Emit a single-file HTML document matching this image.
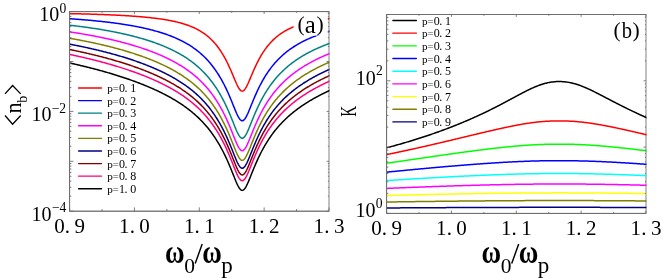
<!DOCTYPE html>
<html><head><meta charset="utf-8"><title>chart</title><style>html,body{margin:0;padding:0;background:#fff;}body{width:663px;height:278px;overflow:hidden;font-family:"Liberation Serif",serif;}</style></head><body>
<svg width="663" height="278" viewBox="0 0 663 278" style="display:block;will-change:transform" font-family="'Liberation Serif', serif">
<rect width="663" height="278" fill="#fff"/>
<defs><clipPath id="c1"><rect x="69.60" y="11.60" width="259.85" height="199.60"/></clipPath>
<clipPath id="c2"><rect x="386.60" y="14.50" width="259.85" height="198.90"/></clipPath></defs>
<rect x="69.60" y="11.60" width="259.40" height="199.60" fill="none" stroke="#6a6a6a" stroke-width="0.85"/>
<rect x="386.60" y="14.50" width="259.40" height="198.90" fill="none" stroke="#6a6a6a" stroke-width="0.85"/>
<g clip-path="url(#c1)" fill="none" stroke-width="1.50" stroke-linejoin="round">
<polyline stroke="#ff0000" points="69.60,13.61 70.38,13.62 71.16,13.64 71.93,13.66 72.71,13.68 73.49,13.69 74.27,13.71 75.05,13.73 75.83,13.75 76.60,13.77 77.38,13.79 78.16,13.80 78.94,13.82 79.72,13.84 80.49,13.86 81.27,13.88 82.05,13.90 82.83,13.92 83.61,13.95 84.39,13.97 85.16,13.99 85.94,14.01 86.72,14.03 87.50,14.05 88.28,14.08 89.06,14.10 89.83,14.12 90.61,14.15 91.39,14.17 92.17,14.20 92.95,14.22 93.72,14.24 94.50,14.27 95.28,14.30 96.06,14.32 96.84,14.35 97.62,14.38 98.39,14.40 99.17,14.43 99.95,14.46 100.73,14.49 101.51,14.52 102.28,14.54 103.06,14.57 103.84,14.60 104.62,14.63 105.40,14.67 106.18,14.70 106.95,14.73 107.73,14.76 108.51,14.79 109.29,14.83 110.07,14.86 110.84,14.90 111.62,14.93 112.40,14.97 113.18,15.00 113.96,15.04 114.74,15.08 115.51,15.11 116.29,15.15 117.07,15.19 117.85,15.23 118.63,15.27 119.40,15.31 120.18,15.35 120.96,15.40 121.74,15.44 122.52,15.48 123.30,15.53 124.07,15.57 124.85,15.62 125.63,15.67 126.41,15.71 127.19,15.76 127.96,15.81 128.74,15.86 129.52,15.91 130.30,15.96 131.08,16.02 131.86,16.07 132.63,16.13 133.41,16.18 134.19,16.24 134.97,16.29 135.75,16.35 136.53,16.41 137.30,16.47 138.08,16.54 138.86,16.60 139.64,16.66 140.42,16.73 141.19,16.80 141.97,16.86 142.75,16.93 143.53,17.00 144.31,17.08 145.09,17.15 145.86,17.22 146.64,17.30 147.42,17.38 148.20,17.46 148.98,17.54 149.75,17.62 150.53,17.71 151.31,17.79 152.09,17.88 152.87,17.97 153.65,18.06 154.42,18.16 155.20,18.25 155.98,18.35 156.76,18.45 157.54,18.55 158.31,18.66 159.09,18.76 159.87,18.87 160.65,18.98 161.43,19.10 162.21,19.21 162.98,19.33 163.76,19.46 164.54,19.58 165.32,19.71 166.10,19.84 166.88,19.97 167.65,20.11 168.43,20.25 169.21,20.39 169.99,20.54 170.77,20.69 171.54,20.85 172.32,21.01 173.10,21.17 173.88,21.34 174.66,21.51 175.44,21.69 176.21,21.87 176.99,22.05 177.77,22.24 178.55,22.44 179.33,22.64 180.10,22.84 180.88,23.06 181.66,23.28 182.44,23.50 183.22,23.73 184.00,23.97 184.77,24.21 185.55,24.46 186.33,24.72 187.11,24.99 187.89,25.26 188.66,25.55 189.44,25.84 190.22,26.14 191.00,26.45 191.78,26.77 192.56,27.10 193.33,27.44 194.11,27.79 194.89,28.16 195.67,28.53 196.45,28.92 197.22,29.32 198.00,29.73 198.78,30.16 199.56,30.60 200.34,31.06 201.12,31.53 201.89,32.02 202.67,32.53 203.45,33.05 204.23,33.60 205.01,34.16 205.79,34.74 206.56,35.35 207.34,35.97 208.12,36.62 208.90,37.29 209.68,37.99 210.45,38.71 211.23,39.45 212.01,40.23 212.79,41.03 213.57,41.87 214.35,42.73 215.12,43.63 215.90,44.55 216.68,45.52 217.46,46.51 218.24,47.55 219.01,48.62 219.79,49.73 220.57,50.89 221.35,52.08 222.13,53.32 222.91,54.60 223.68,55.93 224.46,57.31 225.24,58.73 226.02,60.20 226.80,61.72 227.57,63.29 228.35,64.90 229.13,66.57 229.91,68.28 230.69,70.03 231.47,71.82 232.24,73.65 233.02,75.49 233.80,77.35 234.58,79.21 235.36,81.04 236.13,82.82 236.91,84.53 237.69,86.13 238.47,87.58 239.25,88.83 240.03,89.84 240.80,90.59 241.58,91.02 242.36,91.13 243.14,90.91 243.92,90.37 244.69,89.54 245.47,88.44 246.25,87.12 247.03,85.63 247.81,84.00 248.59,82.27 249.36,80.47 250.14,78.64 250.92,76.79 251.70,74.94 252.48,73.11 253.26,71.31 254.03,69.55 254.81,67.82 255.59,66.14 256.37,64.50 257.15,62.92 257.92,61.38 258.70,59.89 259.48,58.45 260.26,57.06 261.04,55.72 261.82,54.42 262.59,53.17 263.37,51.96 264.15,50.80 264.93,49.67 265.71,48.59 266.48,47.54 267.26,46.53 268.04,45.56 268.82,44.62 269.60,43.71 270.38,42.84 271.15,41.99 271.93,41.18 272.71,40.39 273.49,39.64 274.27,38.91 275.04,38.20 275.82,37.52 276.60,36.86 277.38,36.22 278.16,35.61 278.94,35.02 279.71,34.45 280.49,33.89 281.27,33.36 282.05,32.84 282.83,32.34 283.60,31.85 284.38,31.39 285.16,30.93 285.94,30.49 286.72,30.07 287.50,29.66 288.27,29.26 289.05,28.87 289.83,28.50 290.61,28.14 291.39,27.79 292.17,27.45 292.94,27.12 293.72,26.79 294.50,26.48 295.28,26.18 296.06,25.89 296.83,25.60 297.61,25.32 298.39,25.06 299.17,24.79 299.95,24.54 300.73,24.29 301.50,24.05 302.28,23.82 303.06,23.59 303.84,23.37 304.62,23.15 305.39,22.94 306.17,22.74 306.95,22.54 307.73,22.35 308.51,22.16 309.29,21.97 310.06,21.79 310.84,21.62 311.62,21.45 312.40,21.28 313.18,21.12 313.95,20.96 314.73,20.80 315.51,20.65 316.29,20.50 317.07,20.36 317.85,20.22 318.62,20.08 319.40,19.95 320.18,19.81 320.96,19.69 321.74,19.56 322.51,19.44 323.29,19.32 324.07,19.20 324.85,19.08 325.63,18.97 326.41,18.86 327.18,18.75 327.96,18.65 328.74,18.55 329.52,18.44 330.30,18.35"/>
<polyline stroke="#0000ff" points="69.60,18.71 70.38,18.76 71.16,18.81 71.93,18.87 72.71,18.92 73.49,18.98 74.27,19.03 75.05,19.09 75.83,19.15 76.60,19.21 77.38,19.27 78.16,19.32 78.94,19.38 79.72,19.45 80.49,19.51 81.27,19.57 82.05,19.63 82.83,19.69 83.61,19.76 84.39,19.82 85.16,19.89 85.94,19.96 86.72,20.02 87.50,20.09 88.28,20.16 89.06,20.23 89.83,20.30 90.61,20.37 91.39,20.44 92.17,20.52 92.95,20.59 93.72,20.66 94.50,20.74 95.28,20.81 96.06,20.89 96.84,20.97 97.62,21.05 98.39,21.13 99.17,21.21 99.95,21.29 100.73,21.37 101.51,21.46 102.28,21.54 103.06,21.63 103.84,21.71 104.62,21.80 105.40,21.89 106.18,21.98 106.95,22.07 107.73,22.16 108.51,22.26 109.29,22.35 110.07,22.45 110.84,22.55 111.62,22.64 112.40,22.74 113.18,22.84 113.96,22.95 114.74,23.05 115.51,23.15 116.29,23.26 117.07,23.37 117.85,23.48 118.63,23.59 119.40,23.70 120.18,23.81 120.96,23.92 121.74,24.04 122.52,24.16 123.30,24.28 124.07,24.40 124.85,24.52 125.63,24.64 126.41,24.77 127.19,24.90 127.96,25.02 128.74,25.16 129.52,25.29 130.30,25.42 131.08,25.56 131.86,25.70 132.63,25.84 133.41,25.98 134.19,26.12 134.97,26.27 135.75,26.42 136.53,26.57 137.30,26.72 138.08,26.87 138.86,27.03 139.64,27.19 140.42,27.35 141.19,27.51 141.97,27.68 142.75,27.84 143.53,28.02 144.31,28.19 145.09,28.36 145.86,28.54 146.64,28.72 147.42,28.91 148.20,29.09 148.98,29.28 149.75,29.48 150.53,29.67 151.31,29.87 152.09,30.07 152.87,30.27 153.65,30.48 154.42,30.69 155.20,30.91 155.98,31.12 156.76,31.35 157.54,31.57 158.31,31.80 159.09,32.03 159.87,32.27 160.65,32.51 161.43,32.75 162.21,33.00 162.98,33.25 163.76,33.50 164.54,33.76 165.32,34.03 166.10,34.30 166.88,34.57 167.65,34.85 168.43,35.14 169.21,35.42 169.99,35.72 170.77,36.02 171.54,36.32 172.32,36.63 173.10,36.95 173.88,37.27 174.66,37.60 175.44,37.93 176.21,38.27 176.99,38.62 177.77,38.97 178.55,39.33 179.33,39.70 180.10,40.07 180.88,40.46 181.66,40.84 182.44,41.24 183.22,41.65 184.00,42.06 184.77,42.48 185.55,42.91 186.33,43.35 187.11,43.80 187.89,44.26 188.66,44.73 189.44,45.21 190.22,45.70 191.00,46.20 191.78,46.72 192.56,47.24 193.33,47.78 194.11,48.32 194.89,48.88 195.67,49.46 196.45,50.05 197.22,50.65 198.00,51.26 198.78,51.89 199.56,52.54 200.34,53.20 201.12,53.88 201.89,54.57 202.67,55.29 203.45,56.02 204.23,56.77 205.01,57.54 205.79,58.32 206.56,59.13 207.34,59.96 208.12,60.82 208.90,61.69 209.68,62.59 210.45,63.51 211.23,64.46 212.01,65.43 212.79,66.43 213.57,67.46 214.35,68.52 215.12,69.60 215.90,70.72 216.68,71.86 217.46,73.04 218.24,74.25 219.01,75.50 219.79,76.78 220.57,78.10 221.35,79.46 222.13,80.85 222.91,82.29 223.68,83.76 224.46,85.28 225.24,86.84 226.02,88.44 226.80,90.09 227.57,91.78 228.35,93.51 229.13,95.28 229.91,97.10 230.69,98.95 231.47,100.83 232.24,102.74 233.02,104.67 233.80,106.60 234.58,108.52 235.36,110.41 236.13,112.25 236.91,114.01 237.69,115.64 238.47,117.12 239.25,118.40 240.03,119.44 240.80,120.20 241.58,120.65 242.36,120.76 243.14,120.53 243.92,119.98 244.69,119.13 245.47,118.01 246.25,116.66 247.03,115.13 247.81,113.46 248.59,111.68 249.36,109.83 250.14,107.93 250.92,106.01 251.70,104.09 252.48,102.18 253.26,100.30 254.03,98.44 254.81,96.61 255.59,94.83 256.37,93.08 257.15,91.38 257.92,89.72 258.70,88.11 259.48,86.54 260.26,85.01 261.04,83.53 261.82,82.09 262.59,80.68 263.37,79.32 264.15,78.00 264.93,76.71 265.71,75.46 266.48,74.24 267.26,73.06 268.04,71.91 268.82,70.79 269.60,69.70 270.38,68.65 271.15,67.62 271.93,66.61 272.71,65.64 273.49,64.69 274.27,63.76 275.04,62.86 275.82,61.99 276.60,61.13 277.38,60.30 278.16,59.49 278.94,58.70 279.71,57.92 280.49,57.17 281.27,56.44 282.05,55.72 282.83,55.02 283.60,54.34 284.38,53.67 285.16,53.02 285.94,52.38 286.72,51.76 287.50,51.15 288.27,50.56 289.05,49.98 289.83,49.41 290.61,48.86 291.39,48.31 292.17,47.78 292.94,47.26 293.72,46.75 294.50,46.26 295.28,45.77 296.06,45.29 296.83,44.82 297.61,44.37 298.39,43.92 299.17,43.48 299.95,43.05 300.73,42.62 301.50,42.21 302.28,41.80 303.06,41.40 303.84,41.01 304.62,40.63 305.39,40.25 306.17,39.88 306.95,39.52 307.73,39.16 308.51,38.81 309.29,38.47 310.06,38.13 310.84,37.80 311.62,37.48 312.40,37.16 313.18,36.84 313.95,36.53 314.73,36.23 315.51,35.93 316.29,35.64 317.07,35.35 317.85,35.07 318.62,34.79 319.40,34.52 320.18,34.25 320.96,33.98 321.74,33.72 322.51,33.46 323.29,33.21 324.07,32.96 324.85,32.72 325.63,32.48 326.41,32.24 327.18,32.01 327.96,31.78 328.74,31.55 329.52,31.33 330.30,31.11"/>
<polyline stroke="#008080" points="69.60,25.20 70.38,25.29 71.16,25.38 71.93,25.47 72.71,25.56 73.49,25.65 74.27,25.75 75.05,25.84 75.83,25.93 76.60,26.03 77.38,26.13 78.16,26.22 78.94,26.32 79.72,26.42 80.49,26.52 81.27,26.62 82.05,26.72 82.83,26.83 83.61,26.93 84.39,27.03 85.16,27.14 85.94,27.25 86.72,27.35 87.50,27.46 88.28,27.57 89.06,27.68 89.83,27.80 90.61,27.91 91.39,28.02 92.17,28.14 92.95,28.25 93.72,28.37 94.50,28.49 95.28,28.61 96.06,28.73 96.84,28.85 97.62,28.98 98.39,29.10 99.17,29.23 99.95,29.35 100.73,29.48 101.51,29.61 102.28,29.74 103.06,29.87 103.84,30.01 104.62,30.14 105.40,30.28 106.18,30.42 106.95,30.55 107.73,30.69 108.51,30.84 109.29,30.98 110.07,31.12 110.84,31.27 111.62,31.42 112.40,31.57 113.18,31.72 113.96,31.87 114.74,32.02 115.51,32.18 116.29,32.34 117.07,32.49 117.85,32.65 118.63,32.82 119.40,32.98 120.18,33.14 120.96,33.31 121.74,33.48 122.52,33.65 123.30,33.82 124.07,34.00 124.85,34.17 125.63,34.35 126.41,34.53 127.19,34.72 127.96,34.90 128.74,35.09 129.52,35.27 130.30,35.46 131.08,35.66 131.86,35.85 132.63,36.05 133.41,36.25 134.19,36.45 134.97,36.65 135.75,36.86 136.53,37.07 137.30,37.28 138.08,37.49 138.86,37.70 139.64,37.92 140.42,38.14 141.19,38.37 141.97,38.59 142.75,38.82 143.53,39.05 144.31,39.28 145.09,39.52 145.86,39.76 146.64,40.00 147.42,40.25 148.20,40.50 148.98,40.75 149.75,41.00 150.53,41.26 151.31,41.52 152.09,41.78 152.87,42.05 153.65,42.32 154.42,42.60 155.20,42.87 155.98,43.16 156.76,43.44 157.54,43.73 158.31,44.02 159.09,44.32 159.87,44.62 160.65,44.92 161.43,45.23 162.21,45.54 162.98,45.86 163.76,46.18 164.54,46.51 165.32,46.84 166.10,47.17 166.88,47.51 167.65,47.86 168.43,48.21 169.21,48.56 169.99,48.92 170.77,49.29 171.54,49.66 172.32,50.04 173.10,50.42 173.88,50.81 174.66,51.20 175.44,51.60 176.21,52.01 176.99,52.42 177.77,52.84 178.55,53.27 179.33,53.70 180.10,54.14 180.88,54.59 181.66,55.05 182.44,55.51 183.22,55.98 184.00,56.46 184.77,56.95 185.55,57.45 186.33,57.95 187.11,58.47 187.89,58.99 188.66,59.53 189.44,60.07 190.22,60.63 191.00,61.19 191.78,61.77 192.56,62.35 193.33,62.95 194.11,63.56 194.89,64.19 195.67,64.82 196.45,65.47 197.22,66.14 198.00,66.81 198.78,67.51 199.56,68.21 200.34,68.93 201.12,69.67 201.89,70.42 202.67,71.20 203.45,71.98 204.23,72.79 205.01,73.61 205.79,74.46 206.56,75.32 207.34,76.21 208.12,77.11 208.90,78.04 209.68,78.99 210.45,79.96 211.23,80.96 212.01,81.98 212.79,83.03 213.57,84.10 214.35,85.20 215.12,86.33 215.90,87.49 216.68,88.68 217.46,89.90 218.24,91.15 219.01,92.43 219.79,93.75 220.57,95.11 221.35,96.50 222.13,97.93 222.91,99.39 223.68,100.90 224.46,102.45 225.24,104.04 226.02,105.67 226.80,107.34 227.57,109.05 228.35,110.81 229.13,112.60 229.91,114.44 230.69,116.31 231.47,118.21 232.24,120.13 233.02,122.08 233.80,124.02 234.58,125.96 235.36,127.86 236.13,129.71 236.91,131.47 237.69,133.12 238.47,134.61 239.25,135.89 240.03,136.93 240.80,137.69 241.58,138.14 242.36,138.25 243.14,138.03 243.92,137.48 244.69,136.62 245.47,135.50 246.25,134.14 247.03,132.60 247.81,130.92 248.59,129.13 249.36,127.27 250.14,125.36 250.92,123.43 251.70,121.50 252.48,119.57 253.26,117.67 254.03,115.79 254.81,113.95 255.59,112.14 256.37,110.38 257.15,108.65 257.92,106.97 258.70,105.33 259.48,103.73 260.26,102.18 261.04,100.66 261.82,99.19 262.59,97.75 263.37,96.36 264.15,95.00 264.93,93.68 265.71,92.39 266.48,91.14 267.26,89.91 268.04,88.73 268.82,87.57 269.60,86.44 270.38,85.34 271.15,84.26 271.93,83.22 272.71,82.19 273.49,81.20 274.27,80.23 275.04,79.28 275.82,78.35 276.60,77.45 277.38,76.56 278.16,75.70 278.94,74.85 279.71,74.03 280.49,73.22 281.27,72.43 282.05,71.66 282.83,70.91 283.60,70.17 284.38,69.44 285.16,68.73 285.94,68.04 286.72,67.36 287.50,66.69 288.27,66.04 289.05,65.40 289.83,64.77 290.61,64.16 291.39,63.55 292.17,62.96 292.94,62.38 293.72,61.81 294.50,61.25 295.28,60.70 296.06,60.16 296.83,59.63 297.61,59.11 298.39,58.60 299.17,58.09 299.95,57.60 300.73,57.11 301.50,56.63 302.28,56.16 303.06,55.70 303.84,55.24 304.62,54.79 305.39,54.35 306.17,53.92 306.95,53.49 307.73,53.07 308.51,52.65 309.29,52.24 310.06,51.84 310.84,51.45 311.62,51.06 312.40,50.67 313.18,50.29 313.95,49.92 314.73,49.55 315.51,49.19 316.29,48.83 317.07,48.47 317.85,48.13 318.62,47.78 319.40,47.44 320.18,47.11 320.96,46.78 321.74,46.45 322.51,46.13 323.29,45.82 324.07,45.50 324.85,45.19 325.63,44.89 326.41,44.59 327.18,44.29 327.96,44.00 328.74,43.71 329.52,43.42 330.30,43.14"/>
<polyline stroke="#ff00ff" points="69.60,31.90 70.38,32.02 71.16,32.14 71.93,32.25 72.71,32.37 73.49,32.49 74.27,32.61 75.05,32.73 75.83,32.86 76.60,32.98 77.38,33.10 78.16,33.23 78.94,33.36 79.72,33.48 80.49,33.61 81.27,33.74 82.05,33.87 82.83,34.00 83.61,34.13 84.39,34.27 85.16,34.40 85.94,34.54 86.72,34.67 87.50,34.81 88.28,34.95 89.06,35.09 89.83,35.23 90.61,35.38 91.39,35.52 92.17,35.66 92.95,35.81 93.72,35.96 94.50,36.11 95.28,36.26 96.06,36.41 96.84,36.56 97.62,36.71 98.39,36.87 99.17,37.02 99.95,37.18 100.73,37.34 101.51,37.50 102.28,37.66 103.06,37.82 103.84,37.99 104.62,38.15 105.40,38.32 106.18,38.49 106.95,38.66 107.73,38.83 108.51,39.00 109.29,39.18 110.07,39.35 110.84,39.53 111.62,39.71 112.40,39.89 113.18,40.07 113.96,40.26 114.74,40.44 115.51,40.63 116.29,40.82 117.07,41.01 117.85,41.20 118.63,41.39 119.40,41.59 120.18,41.79 120.96,41.99 121.74,42.19 122.52,42.39 123.30,42.59 124.07,42.80 124.85,43.01 125.63,43.22 126.41,43.43 127.19,43.65 127.96,43.86 128.74,44.08 129.52,44.30 130.30,44.53 131.08,44.75 131.86,44.98 132.63,45.21 133.41,45.44 134.19,45.67 134.97,45.91 135.75,46.15 136.53,46.39 137.30,46.63 138.08,46.88 138.86,47.13 139.64,47.38 140.42,47.63 141.19,47.89 141.97,48.14 142.75,48.40 143.53,48.67 144.31,48.93 145.09,49.20 145.86,49.48 146.64,49.75 147.42,50.03 148.20,50.31 148.98,50.59 149.75,50.88 150.53,51.17 151.31,51.46 152.09,51.76 152.87,52.06 153.65,52.36 154.42,52.67 155.20,52.98 155.98,53.29 156.76,53.61 157.54,53.93 158.31,54.26 159.09,54.58 159.87,54.92 160.65,55.25 161.43,55.59 162.21,55.94 162.98,56.29 163.76,56.64 164.54,57.00 165.32,57.36 166.10,57.72 166.88,58.10 167.65,58.47 168.43,58.85 169.21,59.24 169.99,59.63 170.77,60.03 171.54,60.43 172.32,60.83 173.10,61.25 173.88,61.66 174.66,62.09 175.44,62.52 176.21,62.96 176.99,63.40 177.77,63.85 178.55,64.30 179.33,64.77 180.10,65.24 180.88,65.71 181.66,66.20 182.44,66.69 183.22,67.19 184.00,67.70 184.77,68.22 185.55,68.74 186.33,69.27 187.11,69.82 187.89,70.37 188.66,70.93 189.44,71.50 190.22,72.08 191.00,72.68 191.78,73.28 192.56,73.89 193.33,74.52 194.11,75.15 194.89,75.80 195.67,76.46 196.45,77.14 197.22,77.83 198.00,78.53 198.78,79.24 199.56,79.97 200.34,80.72 201.12,81.48 201.89,82.26 202.67,83.05 203.45,83.86 204.23,84.69 205.01,85.53 205.79,86.40 206.56,87.28 207.34,88.19 208.12,89.11 208.90,90.06 209.68,91.03 210.45,92.02 211.23,93.04 212.01,94.08 212.79,95.14 213.57,96.23 214.35,97.35 215.12,98.50 215.90,99.67 216.68,100.87 217.46,102.11 218.24,103.38 219.01,104.67 219.79,106.01 220.57,107.38 221.35,108.78 222.13,110.22 222.91,111.70 223.68,113.22 224.46,114.77 225.24,116.37 226.02,118.01 226.80,119.69 227.57,121.41 228.35,123.18 229.13,124.98 229.91,126.82 230.69,128.70 231.47,130.61 232.24,132.54 233.02,134.49 233.80,136.44 234.58,138.38 235.36,140.28 236.13,142.14 236.91,143.90 237.69,145.55 238.47,147.04 239.25,148.33 240.03,149.37 240.80,150.14 241.58,150.58 242.36,150.70 243.14,150.47 243.92,149.92 244.69,149.06 245.47,147.93 246.25,146.58 247.03,145.04 247.81,143.35 248.59,141.56 249.36,139.69 250.14,137.78 250.92,135.85 251.70,133.91 252.48,131.98 253.26,130.07 254.03,128.18 254.81,126.33 255.59,124.52 256.37,122.74 257.15,121.01 257.92,119.32 258.70,117.67 259.48,116.06 260.26,114.50 261.04,112.97 261.82,111.49 262.59,110.04 263.37,108.64 264.15,107.27 264.93,105.93 265.71,104.63 266.48,103.36 267.26,102.13 268.04,100.92 268.82,99.75 269.60,98.60 270.38,97.49 271.15,96.40 271.93,95.33 272.71,94.30 273.49,93.28 274.27,92.29 275.04,91.32 275.82,90.38 276.60,89.45 277.38,88.55 278.16,87.67 278.94,86.80 279.71,85.96 280.49,85.13 281.27,84.32 282.05,83.53 282.83,82.75 283.60,81.99 284.38,81.24 285.16,80.51 285.94,79.80 286.72,79.09 287.50,78.40 288.27,77.73 289.05,77.06 289.83,76.41 290.61,75.77 291.39,75.14 292.17,74.53 292.94,73.92 293.72,73.32 294.50,72.74 295.28,72.16 296.06,71.60 296.83,71.04 297.61,70.49 298.39,69.95 299.17,69.42 299.95,68.90 300.73,68.39 301.50,67.88 302.28,67.38 303.06,66.89 303.84,66.41 304.62,65.93 305.39,65.46 306.17,65.00 306.95,64.54 307.73,64.09 308.51,63.65 309.29,63.21 310.06,62.78 310.84,62.35 311.62,61.93 312.40,61.52 313.18,61.11 313.95,60.70 314.73,60.31 315.51,59.91 316.29,59.52 317.07,59.14 317.85,58.76 318.62,58.39 319.40,58.02 320.18,57.65 320.96,57.29 321.74,56.94 322.51,56.58 323.29,56.24 324.07,55.89 324.85,55.55 325.63,55.22 326.41,54.88 327.18,54.56 327.96,54.23 328.74,53.91 329.52,53.59 330.30,53.28"/>
<polyline stroke="#808000" points="69.60,38.28 70.38,38.41 71.16,38.55 71.93,38.69 72.71,38.82 73.49,38.96 74.27,39.10 75.05,39.24 75.83,39.38 76.60,39.53 77.38,39.67 78.16,39.82 78.94,39.96 79.72,40.11 80.49,40.25 81.27,40.40 82.05,40.55 82.83,40.70 83.61,40.86 84.39,41.01 85.16,41.16 85.94,41.32 86.72,41.47 87.50,41.63 88.28,41.79 89.06,41.95 89.83,42.11 90.61,42.27 91.39,42.44 92.17,42.60 92.95,42.77 93.72,42.93 94.50,43.10 95.28,43.27 96.06,43.44 96.84,43.61 97.62,43.78 98.39,43.96 99.17,44.13 99.95,44.31 100.73,44.49 101.51,44.67 102.28,44.85 103.06,45.03 103.84,45.22 104.62,45.40 105.40,45.59 106.18,45.78 106.95,45.97 107.73,46.16 108.51,46.35 109.29,46.54 110.07,46.74 110.84,46.94 111.62,47.14 112.40,47.34 113.18,47.54 113.96,47.74 114.74,47.95 115.51,48.15 116.29,48.36 117.07,48.57 117.85,48.78 118.63,49.00 119.40,49.21 120.18,49.43 120.96,49.65 121.74,49.87 122.52,50.09 123.30,50.31 124.07,50.54 124.85,50.77 125.63,51.00 126.41,51.23 127.19,51.46 127.96,51.70 128.74,51.94 129.52,52.18 130.30,52.42 131.08,52.66 131.86,52.91 132.63,53.16 133.41,53.41 134.19,53.66 134.97,53.92 135.75,54.17 136.53,54.43 137.30,54.70 138.08,54.96 138.86,55.23 139.64,55.50 140.42,55.77 141.19,56.04 141.97,56.32 142.75,56.60 143.53,56.88 144.31,57.17 145.09,57.45 145.86,57.74 146.64,58.04 147.42,58.33 148.20,58.63 148.98,58.93 149.75,59.24 150.53,59.55 151.31,59.86 152.09,60.17 152.87,60.49 153.65,60.81 154.42,61.14 155.20,61.46 155.98,61.79 156.76,62.13 157.54,62.47 158.31,62.81 159.09,63.15 159.87,63.50 160.65,63.86 161.43,64.21 162.21,64.58 162.98,64.94 163.76,65.31 164.54,65.69 165.32,66.06 166.10,66.45 166.88,66.83 167.65,67.23 168.43,67.62 169.21,68.03 169.99,68.43 170.77,68.85 171.54,69.26 172.32,69.69 173.10,70.11 173.88,70.55 174.66,70.99 175.44,71.43 176.21,71.89 176.99,72.34 177.77,72.81 178.55,73.28 179.33,73.76 180.10,74.24 180.88,74.73 181.66,75.23 182.44,75.74 183.22,76.25 184.00,76.78 184.77,77.31 185.55,77.85 186.33,78.39 187.11,78.95 187.89,79.52 188.66,80.09 189.44,80.68 190.22,81.27 191.00,81.88 191.78,82.49 192.56,83.12 193.33,83.76 194.11,84.41 194.89,85.07 195.67,85.74 196.45,86.43 197.22,87.13 198.00,87.84 198.78,88.57 199.56,89.31 200.34,90.07 201.12,90.84 201.89,91.63 202.67,92.43 203.45,93.25 204.23,94.09 205.01,94.95 205.79,95.82 206.56,96.72 207.34,97.63 208.12,98.57 208.90,99.52 209.68,100.50 210.45,101.50 211.23,102.53 212.01,103.57 212.79,104.65 213.57,105.75 214.35,106.87 215.12,108.03 215.90,109.21 216.68,110.42 217.46,111.66 218.24,112.93 219.01,114.24 219.79,115.58 220.57,116.95 221.35,118.36 222.13,119.81 222.91,121.29 223.68,122.82 224.46,124.38 225.24,125.98 226.02,127.62 226.80,129.31 227.57,131.04 228.35,132.80 229.13,134.61 229.91,136.46 230.69,138.34 231.47,140.25 232.24,142.18 233.02,144.13 233.80,146.08 234.58,148.02 235.36,149.93 236.13,151.79 236.91,153.56 237.69,155.21 238.47,156.70 239.25,157.99 240.03,159.03 240.80,159.79 241.58,160.24 242.36,160.35 243.14,160.13 243.92,159.58 244.69,158.72 245.47,157.59 246.25,156.23 247.03,154.69 247.81,153.00 248.59,151.21 249.36,149.34 250.14,147.43 250.92,145.49 251.70,143.55 252.48,141.62 253.26,139.71 254.03,137.82 254.81,135.96 255.59,134.15 256.37,132.37 257.15,130.63 257.92,128.94 258.70,127.28 259.48,125.67 260.26,124.10 261.04,122.57 261.82,121.08 262.59,119.63 263.37,118.22 264.15,116.84 264.93,115.50 265.71,114.19 266.48,112.92 267.26,111.68 268.04,110.47 268.82,109.29 269.60,108.13 270.38,107.01 271.15,105.91 271.93,104.84 272.71,103.79 273.49,102.77 274.27,101.77 275.04,100.80 275.82,99.84 276.60,98.91 277.38,98.00 278.16,97.11 278.94,96.23 279.71,95.38 280.49,94.54 281.27,93.72 282.05,92.92 282.83,92.13 283.60,91.36 284.38,90.60 285.16,89.86 285.94,89.13 286.72,88.42 287.50,87.71 288.27,87.03 289.05,86.35 289.83,85.69 290.61,85.04 291.39,84.40 292.17,83.77 292.94,83.15 293.72,82.54 294.50,81.94 295.28,81.35 296.06,80.77 296.83,80.20 297.61,79.64 298.39,79.09 299.17,78.54 299.95,78.01 300.73,77.48 301.50,76.96 302.28,76.45 303.06,75.94 303.84,75.45 304.62,74.96 305.39,74.47 306.17,73.99 306.95,73.52 307.73,73.06 308.51,72.60 309.29,72.15 310.06,71.70 310.84,71.26 311.62,70.83 312.40,70.40 313.18,69.97 313.95,69.55 314.73,69.14 315.51,68.73 316.29,68.32 317.07,67.92 317.85,67.53 318.62,67.14 319.40,66.75 320.18,66.37 320.96,66.00 321.74,65.62 322.51,65.25 323.29,64.89 324.07,64.53 324.85,64.17 325.63,63.82 326.41,63.47 327.18,63.12 327.96,62.78 328.74,62.44 329.52,62.11 330.30,61.78"/>
<polyline stroke="#000080" points="69.60,44.16 70.38,44.31 71.16,44.45 71.93,44.60 72.71,44.75 73.49,44.91 74.27,45.06 75.05,45.21 75.83,45.37 76.60,45.52 77.38,45.68 78.16,45.84 78.94,46.00 79.72,46.16 80.49,46.32 81.27,46.48 82.05,46.64 82.83,46.80 83.61,46.97 84.39,47.14 85.16,47.30 85.94,47.47 86.72,47.64 87.50,47.81 88.28,47.98 89.06,48.15 89.83,48.33 90.61,48.50 91.39,48.68 92.17,48.86 92.95,49.04 93.72,49.22 94.50,49.40 95.28,49.58 96.06,49.76 96.84,49.95 97.62,50.13 98.39,50.32 99.17,50.51 99.95,50.70 100.73,50.89 101.51,51.08 102.28,51.28 103.06,51.47 103.84,51.67 104.62,51.87 105.40,52.07 106.18,52.27 106.95,52.47 107.73,52.67 108.51,52.88 109.29,53.08 110.07,53.29 110.84,53.50 111.62,53.71 112.40,53.93 113.18,54.14 113.96,54.36 114.74,54.57 115.51,54.79 116.29,55.01 117.07,55.24 117.85,55.46 118.63,55.69 119.40,55.91 120.18,56.14 120.96,56.37 121.74,56.61 122.52,56.84 123.30,57.08 124.07,57.32 124.85,57.56 125.63,57.80 126.41,58.04 127.19,58.29 127.96,58.54 128.74,58.79 129.52,59.04 130.30,59.29 131.08,59.55 131.86,59.80 132.63,60.07 133.41,60.33 134.19,60.59 134.97,60.86 135.75,61.13 136.53,61.40 137.30,61.67 138.08,61.95 138.86,62.23 139.64,62.51 140.42,62.79 141.19,63.08 141.97,63.36 142.75,63.65 143.53,63.95 144.31,64.24 145.09,64.54 145.86,64.84 146.64,65.15 147.42,65.46 148.20,65.77 148.98,66.08 149.75,66.39 150.53,66.71 151.31,67.03 152.09,67.36 152.87,67.69 153.65,68.02 154.42,68.35 155.20,68.69 155.98,69.03 156.76,69.38 157.54,69.73 158.31,70.08 159.09,70.43 159.87,70.79 160.65,71.16 161.43,71.52 162.21,71.90 162.98,72.27 163.76,72.65 164.54,73.03 165.32,73.42 166.10,73.82 166.88,74.21 167.65,74.61 168.43,75.02 169.21,75.43 169.99,75.85 170.77,76.27 171.54,76.70 172.32,77.13 173.10,77.57 173.88,78.01 174.66,78.46 175.44,78.91 176.21,79.37 176.99,79.84 177.77,80.31 178.55,80.79 179.33,81.28 180.10,81.77 180.88,82.27 181.66,82.78 182.44,83.30 183.22,83.82 184.00,84.35 184.77,84.89 185.55,85.44 186.33,85.99 187.11,86.56 187.89,87.13 188.66,87.71 189.44,88.30 190.22,88.91 191.00,89.52 191.78,90.14 192.56,90.78 193.33,91.42 194.11,92.08 194.89,92.75 195.67,93.43 196.45,94.12 197.22,94.83 198.00,95.55 198.78,96.28 199.56,97.03 200.34,97.79 201.12,98.57 201.89,99.36 202.67,100.17 203.45,101.00 204.23,101.84 205.01,102.71 205.79,103.59 206.56,104.49 207.34,105.41 208.12,106.35 208.90,107.31 209.68,108.29 210.45,109.30 211.23,110.33 212.01,111.38 212.79,112.46 213.57,113.56 214.35,114.69 215.12,115.85 215.90,117.04 216.68,118.25 217.46,119.50 218.24,120.77 219.01,122.08 219.79,123.43 220.57,124.80 221.35,126.22 222.13,127.67 222.91,129.15 223.68,130.68 224.46,132.24 225.24,133.85 226.02,135.50 226.80,137.18 227.57,138.91 228.35,140.68 229.13,142.49 229.91,144.34 230.69,146.22 231.47,148.13 232.24,150.07 233.02,152.02 233.80,153.97 234.58,155.91 235.36,157.83 236.13,159.68 236.91,161.45 237.69,163.10 238.47,164.59 239.25,165.88 240.03,166.93 240.80,167.69 241.58,168.14 242.36,168.25 243.14,168.02 243.92,167.47 244.69,166.61 245.47,165.49 246.25,164.13 247.03,162.59 247.81,160.90 248.59,159.10 249.36,157.23 250.14,155.32 250.92,153.38 251.70,151.44 252.48,149.50 253.26,147.59 254.03,145.70 254.81,143.85 255.59,142.03 256.37,140.25 257.15,138.51 257.92,136.81 258.70,135.15 259.48,133.54 260.26,131.97 261.04,130.44 261.82,128.94 262.59,127.49 263.37,126.07 264.15,124.69 264.93,123.35 265.71,122.04 266.48,120.76 267.26,119.52 268.04,118.30 268.82,117.12 269.60,115.96 270.38,114.83 271.15,113.73 271.93,112.65 272.71,111.60 273.49,110.58 274.27,109.57 275.04,108.59 275.82,107.63 276.60,106.69 277.38,105.78 278.16,104.88 278.94,104.00 279.71,103.14 280.49,102.30 281.27,101.47 282.05,100.66 282.83,99.87 283.60,99.09 284.38,98.33 285.16,97.58 285.94,96.85 286.72,96.13 287.50,95.42 288.27,94.72 289.05,94.04 289.83,93.37 290.61,92.71 291.39,92.07 292.17,91.43 292.94,90.80 293.72,90.19 294.50,89.58 295.28,88.99 296.06,88.40 296.83,87.82 297.61,87.25 298.39,86.69 299.17,86.14 299.95,85.60 300.73,85.06 301.50,84.54 302.28,84.02 303.06,83.50 303.84,83.00 304.62,82.50 305.39,82.01 306.17,81.52 306.95,81.04 307.73,80.57 308.51,80.10 309.29,79.64 310.06,79.19 310.84,78.74 311.62,78.29 312.40,77.85 313.18,77.42 313.95,76.99 314.73,76.57 315.51,76.15 316.29,75.74 317.07,75.33 317.85,74.92 318.62,74.53 319.40,74.13 320.18,73.74 320.96,73.35 321.74,72.97 322.51,72.59 323.29,72.22 324.07,71.85 324.85,71.48 325.63,71.12 326.41,70.76 327.18,70.40 327.96,70.05 328.74,69.70 329.52,69.36 330.30,69.02"/>
<polyline stroke="#800000" points="69.60,49.52 70.38,49.68 71.16,49.83 71.93,49.99 72.71,50.15 73.49,50.31 74.27,50.48 75.05,50.64 75.83,50.80 76.60,50.97 77.38,51.13 78.16,51.30 78.94,51.47 79.72,51.64 80.49,51.81 81.27,51.98 82.05,52.15 82.83,52.32 83.61,52.50 84.39,52.67 85.16,52.85 85.94,53.02 86.72,53.20 87.50,53.38 88.28,53.56 89.06,53.74 89.83,53.93 90.61,54.11 91.39,54.30 92.17,54.48 92.95,54.67 93.72,54.86 94.50,55.05 95.28,55.24 96.06,55.43 96.84,55.63 97.62,55.82 98.39,56.02 99.17,56.21 99.95,56.41 100.73,56.61 101.51,56.81 102.28,57.02 103.06,57.22 103.84,57.42 104.62,57.63 105.40,57.84 106.18,58.05 106.95,58.26 107.73,58.47 108.51,58.69 109.29,58.90 110.07,59.12 110.84,59.34 111.62,59.56 112.40,59.78 113.18,60.00 113.96,60.22 114.74,60.45 115.51,60.68 116.29,60.91 117.07,61.14 117.85,61.37 118.63,61.60 119.40,61.84 120.18,62.08 120.96,62.31 121.74,62.56 122.52,62.80 123.30,63.04 124.07,63.29 124.85,63.54 125.63,63.79 126.41,64.04 127.19,64.29 127.96,64.55 128.74,64.80 129.52,65.06 130.30,65.33 131.08,65.59 131.86,65.86 132.63,66.12 133.41,66.39 134.19,66.67 134.97,66.94 135.75,67.22 136.53,67.49 137.30,67.78 138.08,68.06 138.86,68.34 139.64,68.63 140.42,68.92 141.19,69.22 141.97,69.51 142.75,69.81 143.53,70.11 144.31,70.41 145.09,70.72 145.86,71.03 146.64,71.34 147.42,71.65 148.20,71.97 148.98,72.29 149.75,72.61 150.53,72.94 151.31,73.27 152.09,73.60 152.87,73.93 153.65,74.27 154.42,74.61 155.20,74.96 155.98,75.30 156.76,75.66 157.54,76.01 158.31,76.37 159.09,76.73 159.87,77.10 160.65,77.47 161.43,77.84 162.21,78.22 162.98,78.60 163.76,78.99 164.54,79.38 165.32,79.77 166.10,80.17 166.88,80.57 167.65,80.98 168.43,81.39 169.21,81.81 169.99,82.23 170.77,82.66 171.54,83.09 172.32,83.53 173.10,83.97 173.88,84.42 174.66,84.88 175.44,85.34 176.21,85.80 176.99,86.27 177.77,86.75 178.55,87.24 179.33,87.73 180.10,88.23 180.88,88.73 181.66,89.25 182.44,89.77 183.22,90.29 184.00,90.83 184.77,91.37 185.55,91.93 186.33,92.49 187.11,93.05 187.89,93.63 188.66,94.22 189.44,94.82 190.22,95.42 191.00,96.04 191.78,96.67 192.56,97.31 193.33,97.96 194.11,98.62 194.89,99.29 195.67,99.98 196.45,100.67 197.22,101.38 198.00,102.11 198.78,102.84 199.56,103.60 200.34,104.36 201.12,105.15 201.89,105.94 202.67,106.76 203.45,107.59 204.23,108.44 205.01,109.30 205.79,110.19 206.56,111.09 207.34,112.01 208.12,112.96 208.90,113.92 209.68,114.91 210.45,115.92 211.23,116.95 212.01,118.00 212.79,119.09 213.57,120.19 214.35,121.32 215.12,122.48 215.90,123.67 216.68,124.89 217.46,126.14 218.24,127.42 219.01,128.73 219.79,130.07 220.57,131.45 221.35,132.87 222.13,134.32 222.91,135.81 223.68,137.34 224.46,138.90 225.24,140.51 226.02,142.16 226.80,143.85 227.57,145.58 228.35,147.35 229.13,149.16 229.91,151.01 230.69,152.89 231.47,154.80 232.24,156.74 233.02,158.69 233.80,160.65 234.58,162.59 235.36,164.50 236.13,166.36 236.91,168.13 237.69,169.78 238.47,171.27 239.25,172.56 240.03,173.60 240.80,174.37 241.58,174.81 242.36,174.93 243.14,174.70 243.92,174.15 244.69,173.29 245.47,172.16 246.25,170.80 247.03,169.26 247.81,167.57 248.59,165.78 249.36,163.91 250.14,161.99 250.92,160.06 251.70,158.11 252.48,156.18 253.26,154.26 254.03,152.37 254.81,150.51 255.59,148.69 256.37,146.91 257.15,145.17 257.92,143.47 258.70,141.82 259.48,140.20 260.26,138.63 261.04,137.09 261.82,135.60 262.59,134.14 263.37,132.73 264.15,131.34 264.93,130.00 265.71,128.68 266.48,127.40 267.26,126.16 268.04,124.94 268.82,123.75 269.60,122.59 270.38,121.46 271.15,120.36 271.93,119.28 272.71,118.23 273.49,117.20 274.27,116.19 275.04,115.21 275.82,114.25 276.60,113.30 277.38,112.38 278.16,111.48 278.94,110.60 279.71,109.74 280.49,108.89 281.27,108.06 282.05,107.25 282.83,106.45 283.60,105.67 284.38,104.90 285.16,104.15 285.94,103.41 286.72,102.69 287.50,101.98 288.27,101.28 289.05,100.59 289.83,99.92 290.61,99.26 291.39,98.61 292.17,97.97 292.94,97.34 293.72,96.72 294.50,96.11 295.28,95.51 296.06,94.91 296.83,94.33 297.61,93.76 298.39,93.20 299.17,92.64 299.95,92.09 300.73,91.55 301.50,91.02 302.28,90.49 303.06,89.98 303.84,89.46 304.62,88.96 305.39,88.46 306.17,87.97 306.95,87.49 307.73,87.01 308.51,86.54 309.29,86.07 310.06,85.61 310.84,85.16 311.62,84.71 312.40,84.26 313.18,83.82 313.95,83.39 314.73,82.96 315.51,82.54 316.29,82.12 317.07,81.70 317.85,81.29 318.62,80.89 319.40,80.49 320.18,80.09 320.96,79.70 321.74,79.31 322.51,78.93 323.29,78.55 324.07,78.17 324.85,77.80 325.63,77.43 326.41,77.06 327.18,76.70 327.96,76.34 328.74,75.99 329.52,75.64 330.30,75.29"/>
<polyline stroke="#ff0080" points="69.60,54.41 70.38,54.57 71.16,54.73 71.93,54.90 72.71,55.07 73.49,55.23 74.27,55.40 75.05,55.57 75.83,55.74 76.60,55.91 77.38,56.09 78.16,56.26 78.94,56.43 79.72,56.61 80.49,56.78 81.27,56.96 82.05,57.14 82.83,57.32 83.61,57.50 84.39,57.68 85.16,57.86 85.94,58.05 86.72,58.23 87.50,58.42 88.28,58.61 89.06,58.79 89.83,58.98 90.61,59.17 91.39,59.36 92.17,59.56 92.95,59.75 93.72,59.95 94.50,60.14 95.28,60.34 96.06,60.54 96.84,60.74 97.62,60.94 98.39,61.14 99.17,61.34 99.95,61.55 100.73,61.75 101.51,61.96 102.28,62.17 103.06,62.38 103.84,62.59 104.62,62.80 105.40,63.02 106.18,63.23 106.95,63.45 107.73,63.67 108.51,63.89 109.29,64.11 110.07,64.33 110.84,64.55 111.62,64.78 112.40,65.01 113.18,65.24 113.96,65.47 114.74,65.70 115.51,65.93 116.29,66.16 117.07,66.40 117.85,66.64 118.63,66.88 119.40,67.12 120.18,67.36 120.96,67.61 121.74,67.85 122.52,68.10 123.30,68.35 124.07,68.60 124.85,68.86 125.63,69.11 126.41,69.37 127.19,69.63 127.96,69.89 128.74,70.15 129.52,70.42 130.30,70.68 131.08,70.95 131.86,71.22 132.63,71.50 133.41,71.77 134.19,72.05 134.97,72.33 135.75,72.61 136.53,72.89 137.30,73.18 138.08,73.47 138.86,73.76 139.64,74.05 140.42,74.35 141.19,74.64 141.97,74.95 142.75,75.25 143.53,75.55 144.31,75.86 145.09,76.17 145.86,76.48 146.64,76.80 147.42,77.12 148.20,77.44 148.98,77.77 149.75,78.09 150.53,78.42 151.31,78.76 152.09,79.09 152.87,79.43 153.65,79.77 154.42,80.12 155.20,80.47 155.98,80.82 156.76,81.18 157.54,81.54 158.31,81.90 159.09,82.27 159.87,82.64 160.65,83.01 161.43,83.39 162.21,83.77 162.98,84.16 163.76,84.55 164.54,84.94 165.32,85.34 166.10,85.74 166.88,86.15 167.65,86.56 168.43,86.98 169.21,87.40 169.99,87.82 170.77,88.25 171.54,88.69 172.32,89.13 173.10,89.58 173.88,90.03 174.66,90.49 175.44,90.95 176.21,91.42 176.99,91.90 177.77,92.38 178.55,92.87 179.33,93.36 180.10,93.87 180.88,94.38 181.66,94.89 182.44,95.42 183.22,95.95 184.00,96.49 184.77,97.03 185.55,97.59 186.33,98.15 187.11,98.72 187.89,99.30 188.66,99.90 189.44,100.50 190.22,101.11 191.00,101.73 191.78,102.36 192.56,103.00 193.33,103.65 194.11,104.31 194.89,104.99 195.67,105.68 196.45,106.38 197.22,107.09 198.00,107.82 198.78,108.56 199.56,109.31 200.34,110.08 201.12,110.87 201.89,111.67 202.67,112.48 203.45,113.32 204.23,114.17 205.01,115.03 205.79,115.92 206.56,116.83 207.34,117.75 208.12,118.70 208.90,119.66 209.68,120.65 210.45,121.66 211.23,122.70 212.01,123.75 212.79,124.84 213.57,125.95 214.35,127.08 215.12,128.24 215.90,129.43 216.68,130.65 217.46,131.90 218.24,133.18 219.01,134.49 219.79,135.84 220.57,137.22 221.35,138.64 222.13,140.09 222.91,141.58 223.68,143.11 224.46,144.68 225.24,146.28 226.02,147.93 226.80,149.62 227.57,151.35 228.35,153.13 229.13,154.94 229.91,156.79 230.69,158.67 231.47,160.58 232.24,162.52 233.02,164.47 233.80,166.43 234.58,168.37 235.36,170.28 236.13,172.14 236.91,173.91 237.69,175.56 238.47,177.05 239.25,178.34 240.03,179.39 240.80,180.15 241.58,180.60 242.36,180.71 243.14,180.49 243.92,179.93 244.69,179.07 245.47,177.95 246.25,176.59 247.03,175.05 247.81,173.36 248.59,171.56 249.36,169.69 250.14,167.78 250.92,165.84 251.70,163.89 252.48,161.96 253.26,160.04 254.03,158.15 254.81,156.29 255.59,154.47 256.37,152.69 257.15,150.95 257.92,149.25 258.70,147.59 259.48,145.98 260.26,144.40 261.04,142.87 261.82,141.37 262.59,139.91 263.37,138.49 264.15,137.11 264.93,135.76 265.71,134.45 266.48,133.17 267.26,131.92 268.04,130.70 268.82,129.51 269.60,128.35 270.38,127.22 271.15,126.11 271.93,125.03 272.71,123.98 273.49,122.95 274.27,121.94 275.04,120.95 275.82,119.99 276.60,119.05 277.38,118.12 278.16,117.22 278.94,116.34 279.71,115.47 280.49,114.62 281.27,113.79 282.05,112.97 282.83,112.18 283.60,111.39 284.38,110.62 285.16,109.87 285.94,109.13 286.72,108.40 287.50,107.69 288.27,106.99 289.05,106.30 289.83,105.62 290.61,104.96 291.39,104.30 292.17,103.66 292.94,103.03 293.72,102.40 294.50,101.79 295.28,101.19 296.06,100.59 296.83,100.01 297.61,99.43 298.39,98.87 299.17,98.31 299.95,97.75 300.73,97.21 301.50,96.68 302.28,96.15 303.06,95.63 303.84,95.11 304.62,94.61 305.39,94.10 306.17,93.61 306.95,93.12 307.73,92.64 308.51,92.17 309.29,91.70 310.06,91.23 310.84,90.77 311.62,90.32 312.40,89.87 313.18,89.43 313.95,88.99 314.73,88.56 315.51,88.13 316.29,87.71 317.07,87.29 317.85,86.88 318.62,86.47 319.40,86.06 320.18,85.66 320.96,85.27 321.74,84.87 322.51,84.49 323.29,84.10 324.07,83.72 324.85,83.34 325.63,82.97 326.41,82.60 327.18,82.23 327.96,81.87 328.74,81.51 329.52,81.16 330.30,80.81"/>
<polyline stroke="#000000" points="69.60,62.97 70.38,63.14 71.16,63.31 71.93,63.49 72.71,63.66 73.49,63.84 74.27,64.01 75.05,64.19 75.83,64.37 76.60,64.55 77.38,64.73 78.16,64.91 78.94,65.10 79.72,65.28 80.49,65.46 81.27,65.65 82.05,65.84 82.83,66.02 83.61,66.21 84.39,66.40 85.16,66.59 85.94,66.78 86.72,66.98 87.50,67.17 88.28,67.37 89.06,67.56 89.83,67.76 90.61,67.96 91.39,68.16 92.17,68.36 92.95,68.56 93.72,68.76 94.50,68.97 95.28,69.17 96.06,69.38 96.84,69.58 97.62,69.79 98.39,70.00 99.17,70.21 99.95,70.43 100.73,70.64 101.51,70.86 102.28,71.07 103.06,71.29 103.84,71.51 104.62,71.73 105.40,71.95 106.18,72.17 106.95,72.40 107.73,72.62 108.51,72.85 109.29,73.08 110.07,73.31 110.84,73.54 111.62,73.77 112.40,74.00 113.18,74.24 113.96,74.48 114.74,74.72 115.51,74.96 116.29,75.20 117.07,75.44 117.85,75.69 118.63,75.93 119.40,76.18 120.18,76.43 120.96,76.68 121.74,76.94 122.52,77.19 123.30,77.45 124.07,77.71 124.85,77.97 125.63,78.23 126.41,78.49 127.19,78.76 127.96,79.02 128.74,79.29 129.52,79.57 130.30,79.84 131.08,80.11 131.86,80.39 132.63,80.67 133.41,80.95 134.19,81.24 134.97,81.52 135.75,81.81 136.53,82.10 137.30,82.39 138.08,82.69 138.86,82.98 139.64,83.28 140.42,83.58 141.19,83.89 141.97,84.19 142.75,84.50 143.53,84.81 144.31,85.13 145.09,85.44 145.86,85.76 146.64,86.08 147.42,86.41 148.20,86.74 148.98,87.07 149.75,87.40 150.53,87.73 151.31,88.07 152.09,88.41 152.87,88.76 153.65,89.11 154.42,89.46 155.20,89.81 155.98,90.17 156.76,90.53 157.54,90.90 158.31,91.26 159.09,91.64 159.87,92.01 160.65,92.39 161.43,92.77 162.21,93.16 162.98,93.55 163.76,93.95 164.54,94.35 165.32,94.75 166.10,95.16 166.88,95.57 167.65,95.98 168.43,96.41 169.21,96.83 169.99,97.26 170.77,97.70 171.54,98.14 172.32,98.58 173.10,99.04 173.88,99.49 174.66,99.96 175.44,100.42 176.21,100.90 176.99,101.38 177.77,101.86 178.55,102.36 179.33,102.86 180.10,103.36 180.88,103.88 181.66,104.40 182.44,104.92 183.22,105.46 184.00,106.00 184.77,106.55 185.55,107.11 186.33,107.68 187.11,108.25 187.89,108.84 188.66,109.43 189.44,110.04 190.22,110.65 191.00,111.27 191.78,111.91 192.56,112.55 193.33,113.21 194.11,113.88 194.89,114.56 195.67,115.25 196.45,115.95 197.22,116.67 198.00,117.40 198.78,118.14 199.56,118.90 200.34,119.67 201.12,120.46 201.89,121.26 202.67,122.08 203.45,122.92 204.23,123.77 205.01,124.64 205.79,125.53 206.56,126.44 207.34,127.36 208.12,128.31 208.90,129.28 209.68,130.27 210.45,131.29 211.23,132.32 212.01,133.38 212.79,134.47 213.57,135.58 214.35,136.71 215.12,137.88 215.90,139.07 216.68,140.29 217.46,141.54 218.24,142.82 219.01,144.14 219.79,145.49 220.57,146.87 221.35,148.29 222.13,149.74 222.91,151.23 223.68,152.76 224.46,154.33 225.24,155.94 226.02,157.59 226.80,159.28 227.57,161.01 228.35,162.79 229.13,164.60 229.91,166.45 230.69,168.33 231.47,170.25 232.24,172.19 233.02,174.14 233.80,176.09 234.58,178.04 235.36,179.95 236.13,181.81 236.91,183.58 237.69,185.23 238.47,186.72 239.25,188.01 240.03,189.06 240.80,189.82 241.58,190.27 242.36,190.38 243.14,190.15 243.92,189.60 244.69,188.74 245.47,187.61 246.25,186.26 247.03,184.71 247.81,183.02 248.59,181.23 249.36,179.36 250.14,177.44 250.92,175.50 251.70,173.56 252.48,171.62 253.26,169.70 254.03,167.81 254.81,165.96 255.59,164.13 256.37,162.35 257.15,160.61 257.92,158.91 258.70,157.25 259.48,155.63 260.26,154.06 261.04,152.52 261.82,151.02 262.59,149.56 263.37,148.14 264.15,146.76 264.93,145.41 265.71,144.09 266.48,142.81 267.26,141.56 268.04,140.34 268.82,139.15 269.60,137.99 270.38,136.85 271.15,135.74 271.93,134.66 272.71,133.60 273.49,132.57 274.27,131.56 275.04,130.57 275.82,129.61 276.60,128.66 277.38,127.74 278.16,126.83 278.94,125.94 279.71,125.08 280.49,124.23 281.27,123.39 282.05,122.57 282.83,121.77 283.60,120.99 284.38,120.21 285.16,119.46 285.94,118.71 286.72,117.98 287.50,117.27 288.27,116.56 289.05,115.87 289.83,115.19 290.61,114.52 291.39,113.87 292.17,113.22 292.94,112.58 293.72,111.96 294.50,111.34 295.28,110.73 296.06,110.14 296.83,109.55 297.61,108.97 298.39,108.40 299.17,107.83 299.95,107.28 300.73,106.73 301.50,106.19 302.28,105.66 303.06,105.14 303.84,104.62 304.62,104.11 305.39,103.60 306.17,103.10 306.95,102.61 307.73,102.13 308.51,101.65 309.29,101.17 310.06,100.70 310.84,100.24 311.62,99.78 312.40,99.33 313.18,98.89 313.95,98.44 314.73,98.01 315.51,97.57 316.29,97.15 317.07,96.72 317.85,96.31 318.62,95.89 319.40,95.48 320.18,95.08 320.96,94.68 321.74,94.28 322.51,93.89 323.29,93.50 324.07,93.11 324.85,92.73 325.63,92.35 326.41,91.98 327.18,91.60 327.96,91.24 328.74,90.87 329.52,90.51 330.30,90.15"/>
</g>
<g clip-path="url(#c2)" fill="none" stroke-width="1.50" stroke-linejoin="round">
<polyline stroke="#000000" points="386.60,147.82 387.38,147.61 388.16,147.40 388.93,147.19 389.71,146.98 390.49,146.77 391.27,146.56 392.05,146.35 392.83,146.14 393.60,145.92 394.38,145.71 395.16,145.49 395.94,145.28 396.72,145.06 397.49,144.84 398.27,144.62 399.05,144.40 399.83,144.18 400.61,143.95 401.39,143.73 402.16,143.51 402.94,143.28 403.72,143.05 404.50,142.83 405.28,142.60 406.06,142.37 406.83,142.14 407.61,141.90 408.39,141.67 409.17,141.44 409.95,141.20 410.72,140.97 411.50,140.73 412.28,140.49 413.06,140.25 413.84,140.01 414.62,139.77 415.39,139.53 416.17,139.28 416.95,139.04 417.73,138.79 418.51,138.54 419.28,138.30 420.06,138.05 420.84,137.79 421.62,137.54 422.40,137.29 423.18,137.04 423.95,136.78 424.73,136.52 425.51,136.27 426.29,136.01 427.07,135.75 427.84,135.49 428.62,135.22 429.40,134.96 430.18,134.69 430.96,134.43 431.74,134.16 432.51,133.89 433.29,133.62 434.07,133.35 434.85,133.08 435.63,132.80 436.40,132.53 437.18,132.25 437.96,131.97 438.74,131.69 439.52,131.41 440.30,131.13 441.07,130.85 441.85,130.56 442.63,130.28 443.41,129.99 444.19,129.70 444.96,129.41 445.74,129.12 446.52,128.83 447.30,128.53 448.08,128.24 448.86,127.94 449.63,127.64 450.41,127.34 451.19,127.04 451.97,126.74 452.75,126.43 453.53,126.13 454.30,125.82 455.08,125.51 455.86,125.20 456.64,124.89 457.42,124.57 458.19,124.26 458.97,123.94 459.75,123.62 460.53,123.31 461.31,122.98 462.09,122.66 462.86,122.34 463.64,122.01 464.42,121.68 465.20,121.36 465.98,121.02 466.75,120.69 467.53,120.36 468.31,120.02 469.09,119.69 469.87,119.35 470.65,119.01 471.42,118.66 472.20,118.32 472.98,117.98 473.76,117.63 474.54,117.28 475.31,116.93 476.09,116.58 476.87,116.22 477.65,115.87 478.43,115.51 479.21,115.15 479.98,114.79 480.76,114.43 481.54,114.06 482.32,113.70 483.10,113.33 483.88,112.96 484.65,112.59 485.43,112.22 486.21,111.84 486.99,111.47 487.77,111.09 488.54,110.71 489.32,110.33 490.10,109.94 490.88,109.56 491.66,109.17 492.44,108.78 493.21,108.39 493.99,108.00 494.77,107.61 495.55,107.21 496.33,106.82 497.10,106.42 497.88,106.02 498.66,105.62 499.44,105.22 500.22,104.81 501.00,104.41 501.77,104.00 502.55,103.59 503.33,103.18 504.11,102.77 504.89,102.36 505.66,101.94 506.44,101.53 507.22,101.11 508.00,100.70 508.78,100.28 509.56,99.86 510.33,99.44 511.11,99.02 511.89,98.60 512.67,98.18 513.45,97.76 514.22,97.34 515.00,96.93 515.78,96.51 516.56,96.09 517.34,95.67 518.12,95.25 518.89,94.83 519.67,94.42 520.45,94.01 521.23,93.59 522.01,93.18 522.79,92.78 523.56,92.37 524.34,91.97 525.12,91.57 525.90,91.17 526.68,90.78 527.45,90.40 528.23,90.01 529.01,89.63 529.79,89.26 530.57,88.89 531.35,88.53 532.12,88.17 532.90,87.82 533.68,87.48 534.46,87.14 535.24,86.81 536.01,86.49 536.79,86.18 537.57,85.87 538.35,85.58 539.13,85.29 539.91,85.01 540.68,84.74 541.46,84.49 542.24,84.24 543.02,84.00 543.80,83.77 544.57,83.55 545.35,83.35 546.13,83.15 546.91,82.96 547.69,82.79 548.47,82.63 549.24,82.48 550.02,82.33 550.80,82.21 551.58,82.09 552.36,81.98 553.13,81.89 553.91,81.80 554.69,81.73 555.47,81.67 556.25,81.62 557.03,81.58 557.80,81.55 558.58,81.54 559.36,81.54 560.14,81.54 560.92,81.56 561.69,81.59 562.47,81.63 563.25,81.69 564.03,81.75 564.81,81.83 565.59,81.91 566.36,82.01 567.14,82.12 567.92,82.24 568.70,82.38 569.48,82.52 570.26,82.67 571.03,82.84 571.81,83.01 572.59,83.20 573.37,83.40 574.15,83.60 574.92,83.82 575.70,84.05 576.48,84.28 577.26,84.53 578.04,84.79 578.82,85.05 579.59,85.32 580.37,85.61 581.15,85.90 581.93,86.20 582.71,86.50 583.48,86.82 584.26,87.14 585.04,87.46 585.82,87.80 586.60,88.14 587.38,88.48 588.15,88.84 588.93,89.19 589.71,89.55 590.49,89.92 591.27,90.29 592.04,90.67 592.82,91.04 593.60,91.43 594.38,91.81 595.16,92.20 595.94,92.59 596.71,92.98 597.49,93.38 598.27,93.78 599.05,94.17 599.83,94.57 600.61,94.98 601.38,95.38 602.16,95.78 602.94,96.19 603.72,96.59 604.50,97.00 605.27,97.41 606.05,97.81 606.83,98.22 607.61,98.62 608.39,99.03 609.17,99.44 609.94,99.84 610.72,100.25 611.50,100.65 612.28,101.06 613.06,101.46 613.83,101.86 614.61,102.27 615.39,102.67 616.17,103.07 616.95,103.47 617.73,103.87 618.50,104.26 619.28,104.66 620.06,105.05 620.84,105.45 621.62,105.84 622.39,106.23 623.17,106.62 623.95,107.01 624.73,107.40 625.51,107.78 626.29,108.17 627.06,108.55 627.84,108.93 628.62,109.31 629.40,109.69 630.18,110.07 630.95,110.45 631.73,110.82 632.51,111.19 633.29,111.57 634.07,111.94 634.85,112.30 635.62,112.67 636.40,113.04 637.18,113.40 637.96,113.76 638.74,114.12 639.51,114.48 640.29,114.84 641.07,115.20 641.85,115.55 642.63,115.91 643.41,116.26 644.18,116.61 644.96,116.96 645.74,117.30 646.52,117.65 647.30,117.99"/>
<polyline stroke="#ff0000" points="386.60,154.59 387.38,154.43 388.16,154.27 388.93,154.12 389.71,153.96 390.49,153.80 391.27,153.64 392.05,153.48 392.83,153.31 393.60,153.15 394.38,152.99 395.16,152.83 395.94,152.66 396.72,152.50 397.49,152.34 398.27,152.17 399.05,152.01 399.83,151.84 400.61,151.68 401.39,151.51 402.16,151.35 402.94,151.18 403.72,151.01 404.50,150.85 405.28,150.68 406.06,150.51 406.83,150.34 407.61,150.17 408.39,150.00 409.17,149.83 409.95,149.66 410.72,149.49 411.50,149.32 412.28,149.15 413.06,148.98 413.84,148.81 414.62,148.63 415.39,148.46 416.17,148.29 416.95,148.12 417.73,147.94 418.51,147.77 419.28,147.59 420.06,147.42 420.84,147.24 421.62,147.07 422.40,146.89 423.18,146.71 423.95,146.54 424.73,146.36 425.51,146.18 426.29,146.01 427.07,145.83 427.84,145.65 428.62,145.47 429.40,145.29 430.18,145.11 430.96,144.93 431.74,144.75 432.51,144.57 433.29,144.39 434.07,144.21 434.85,144.03 435.63,143.85 436.40,143.67 437.18,143.49 437.96,143.30 438.74,143.12 439.52,142.94 440.30,142.76 441.07,142.57 441.85,142.39 442.63,142.21 443.41,142.02 444.19,141.84 444.96,141.65 445.74,141.47 446.52,141.28 447.30,141.10 448.08,140.91 448.86,140.73 449.63,140.54 450.41,140.36 451.19,140.17 451.97,139.99 452.75,139.80 453.53,139.61 454.30,139.43 455.08,139.24 455.86,139.06 456.64,138.87 457.42,138.68 458.19,138.50 458.97,138.31 459.75,138.12 460.53,137.94 461.31,137.75 462.09,137.56 462.86,137.37 463.64,137.19 464.42,137.00 465.20,136.81 465.98,136.63 466.75,136.44 467.53,136.25 468.31,136.07 469.09,135.88 469.87,135.69 470.65,135.51 471.42,135.32 472.20,135.13 472.98,134.95 473.76,134.76 474.54,134.57 475.31,134.39 476.09,134.20 476.87,134.02 477.65,133.83 478.43,133.65 479.21,133.46 479.98,133.28 480.76,133.09 481.54,132.91 482.32,132.73 483.10,132.54 483.88,132.36 484.65,132.18 485.43,131.99 486.21,131.81 486.99,131.63 487.77,131.45 488.54,131.27 489.32,131.09 490.10,130.91 490.88,130.73 491.66,130.55 492.44,130.37 493.21,130.19 493.99,130.01 494.77,129.84 495.55,129.66 496.33,129.48 497.10,129.31 497.88,129.14 498.66,128.96 499.44,128.79 500.22,128.62 501.00,128.45 501.77,128.27 502.55,128.10 503.33,127.94 504.11,127.77 504.89,127.60 505.66,127.43 506.44,127.27 507.22,127.11 508.00,126.94 508.78,126.78 509.56,126.62 510.33,126.46 511.11,126.30 511.89,126.15 512.67,125.99 513.45,125.84 514.22,125.68 515.00,125.53 515.78,125.38 516.56,125.23 517.34,125.09 518.12,124.94 518.89,124.80 519.67,124.66 520.45,124.52 521.23,124.38 522.01,124.24 522.79,124.11 523.56,123.98 524.34,123.85 525.12,123.72 525.90,123.60 526.68,123.47 527.45,123.35 528.23,123.23 529.01,123.12 529.79,123.01 530.57,122.90 531.35,122.79 532.12,122.68 532.90,122.58 533.68,122.48 534.46,122.39 535.24,122.29 536.01,122.20 536.79,122.12 537.57,122.03 538.35,121.95 539.13,121.87 539.91,121.80 540.68,121.72 541.46,121.65 542.24,121.59 543.02,121.53 543.80,121.47 544.57,121.41 545.35,121.35 546.13,121.30 546.91,121.26 547.69,121.21 548.47,121.17 549.24,121.13 550.02,121.10 550.80,121.06 551.58,121.03 552.36,121.01 553.13,120.98 553.91,120.96 554.69,120.94 555.47,120.93 556.25,120.92 557.03,120.91 557.80,120.90 558.58,120.90 559.36,120.90 560.14,120.90 560.92,120.90 561.69,120.91 562.47,120.92 563.25,120.93 564.03,120.95 564.81,120.97 565.59,120.99 566.36,121.02 567.14,121.04 567.92,121.07 568.70,121.11 569.48,121.14 570.26,121.18 571.03,121.22 571.81,121.27 572.59,121.32 573.37,121.37 574.15,121.42 574.92,121.48 575.70,121.54 576.48,121.60 577.26,121.67 578.04,121.73 578.82,121.81 579.59,121.88 580.37,121.96 581.15,122.04 581.93,122.12 582.71,122.21 583.48,122.29 584.26,122.39 585.04,122.48 585.82,122.58 586.60,122.67 587.38,122.78 588.15,122.88 588.93,122.99 589.71,123.10 590.49,123.21 591.27,123.32 592.04,123.44 592.82,123.55 593.60,123.68 594.38,123.80 595.16,123.92 595.94,124.05 596.71,124.18 597.49,124.31 598.27,124.44 599.05,124.57 599.83,124.71 600.61,124.85 601.38,124.99 602.16,125.13 602.94,125.27 603.72,125.41 604.50,125.56 605.27,125.70 606.05,125.85 606.83,126.00 607.61,126.15 608.39,126.30 609.17,126.46 609.94,126.61 610.72,126.77 611.50,126.93 612.28,127.08 613.06,127.24 613.83,127.40 614.61,127.56 615.39,127.73 616.17,127.89 616.95,128.05 617.73,128.22 618.50,128.39 619.28,128.55 620.06,128.72 620.84,128.89 621.62,129.06 622.39,129.23 623.17,129.40 623.95,129.57 624.73,129.74 625.51,129.92 626.29,130.09 627.06,130.26 627.84,130.44 628.62,130.61 629.40,130.79 630.18,130.97 630.95,131.14 631.73,131.32 632.51,131.50 633.29,131.68 634.07,131.86 634.85,132.04 635.62,132.22 636.40,132.40 637.18,132.58 637.96,132.76 638.74,132.94 639.51,133.12 640.29,133.30 641.07,133.49 641.85,133.67 642.63,133.85 643.41,134.04 644.18,134.22 644.96,134.40 645.74,134.59 646.52,134.77 647.30,134.96"/>
<polyline stroke="#00ff00" points="386.60,163.22 387.38,163.11 388.16,163.00 388.93,162.89 389.71,162.78 390.49,162.66 391.27,162.55 392.05,162.44 392.83,162.33 393.60,162.22 394.38,162.11 395.16,161.99 395.94,161.88 396.72,161.77 397.49,161.66 398.27,161.54 399.05,161.43 399.83,161.32 400.61,161.21 401.39,161.09 402.16,160.98 402.94,160.87 403.72,160.75 404.50,160.64 405.28,160.53 406.06,160.42 406.83,160.30 407.61,160.19 408.39,160.08 409.17,159.96 409.95,159.85 410.72,159.74 411.50,159.62 412.28,159.51 413.06,159.40 413.84,159.28 414.62,159.17 415.39,159.05 416.17,158.94 416.95,158.83 417.73,158.71 418.51,158.60 419.28,158.49 420.06,158.37 420.84,158.26 421.62,158.15 422.40,158.03 423.18,157.92 423.95,157.81 424.73,157.69 425.51,157.58 426.29,157.47 427.07,157.35 427.84,157.24 428.62,157.13 429.40,157.01 430.18,156.90 430.96,156.79 431.74,156.68 432.51,156.56 433.29,156.45 434.07,156.34 434.85,156.23 435.63,156.11 436.40,156.00 437.18,155.89 437.96,155.78 438.74,155.66 439.52,155.55 440.30,155.44 441.07,155.33 441.85,155.22 442.63,155.11 443.41,155.00 444.19,154.88 444.96,154.77 445.74,154.66 446.52,154.55 447.30,154.44 448.08,154.33 448.86,154.22 449.63,154.11 450.41,154.00 451.19,153.89 451.97,153.78 452.75,153.67 453.53,153.57 454.30,153.46 455.08,153.35 455.86,153.24 456.64,153.13 457.42,153.02 458.19,152.92 458.97,152.81 459.75,152.70 460.53,152.60 461.31,152.49 462.09,152.38 462.86,152.28 463.64,152.17 464.42,152.07 465.20,151.96 465.98,151.86 466.75,151.75 467.53,151.65 468.31,151.55 469.09,151.44 469.87,151.34 470.65,151.24 471.42,151.14 472.20,151.03 472.98,150.93 473.76,150.83 474.54,150.73 475.31,150.63 476.09,150.53 476.87,150.43 477.65,150.33 478.43,150.23 479.21,150.13 479.98,150.04 480.76,149.94 481.54,149.84 482.32,149.75 483.10,149.65 483.88,149.55 484.65,149.46 485.43,149.36 486.21,149.27 486.99,149.18 487.77,149.08 488.54,148.99 489.32,148.90 490.10,148.80 490.88,148.71 491.66,148.62 492.44,148.53 493.21,148.44 493.99,148.35 494.77,148.27 495.55,148.18 496.33,148.09 497.10,148.00 497.88,147.92 498.66,147.83 499.44,147.75 500.22,147.66 501.00,147.58 501.77,147.50 502.55,147.41 503.33,147.33 504.11,147.25 504.89,147.17 505.66,147.09 506.44,147.01 507.22,146.93 508.00,146.86 508.78,146.78 509.56,146.70 510.33,146.63 511.11,146.55 511.89,146.48 512.67,146.41 513.45,146.33 514.22,146.26 515.00,146.19 515.78,146.12 516.56,146.06 517.34,145.99 518.12,145.92 518.89,145.86 519.67,145.79 520.45,145.73 521.23,145.67 522.01,145.60 522.79,145.54 523.56,145.49 524.34,145.43 525.12,145.37 525.90,145.31 526.68,145.26 527.45,145.21 528.23,145.15 529.01,145.10 529.79,145.05 530.57,145.00 531.35,144.96 532.12,144.91 532.90,144.87 533.68,144.82 534.46,144.78 535.24,144.74 536.01,144.70 536.79,144.66 537.57,144.63 538.35,144.59 539.13,144.56 539.91,144.53 540.68,144.49 541.46,144.47 542.24,144.44 543.02,144.41 543.80,144.38 544.57,144.36 545.35,144.34 546.13,144.32 546.91,144.29 547.69,144.28 548.47,144.26 549.24,144.24 550.02,144.23 550.80,144.21 551.58,144.20 552.36,144.19 553.13,144.18 553.91,144.17 554.69,144.16 555.47,144.16 556.25,144.15 557.03,144.15 557.80,144.14 558.58,144.14 559.36,144.14 560.14,144.14 560.92,144.15 561.69,144.15 562.47,144.15 563.25,144.16 564.03,144.16 564.81,144.17 565.59,144.18 566.36,144.19 567.14,144.20 567.92,144.22 568.70,144.23 569.48,144.25 570.26,144.26 571.03,144.28 571.81,144.30 572.59,144.32 573.37,144.34 574.15,144.37 574.92,144.39 575.70,144.42 576.48,144.44 577.26,144.47 578.04,144.50 578.82,144.53 579.59,144.56 580.37,144.60 581.15,144.63 581.93,144.67 582.71,144.70 583.48,144.74 584.26,144.78 585.04,144.82 585.82,144.86 586.60,144.91 587.38,144.95 588.15,145.00 588.93,145.04 589.71,145.09 590.49,145.14 591.27,145.19 592.04,145.24 592.82,145.30 593.60,145.35 594.38,145.40 595.16,145.46 595.94,145.52 596.71,145.57 597.49,145.63 598.27,145.69 599.05,145.75 599.83,145.82 600.61,145.88 601.38,145.94 602.16,146.01 602.94,146.07 603.72,146.14 604.50,146.21 605.27,146.27 606.05,146.34 606.83,146.41 607.61,146.48 608.39,146.55 609.17,146.63 609.94,146.70 610.72,146.77 611.50,146.85 612.28,146.92 613.06,147.00 613.83,147.07 614.61,147.15 615.39,147.23 616.17,147.31 616.95,147.39 617.73,147.47 618.50,147.55 619.28,147.63 620.06,147.71 620.84,147.80 621.62,147.88 622.39,147.96 623.17,148.05 623.95,148.13 624.73,148.22 625.51,148.30 626.29,148.39 627.06,148.48 627.84,148.57 628.62,148.66 629.40,148.75 630.18,148.84 630.95,148.93 631.73,149.02 632.51,149.11 633.29,149.20 634.07,149.29 634.85,149.39 635.62,149.48 636.40,149.57 637.18,149.67 637.96,149.76 638.74,149.86 639.51,149.95 640.29,150.05 641.07,150.15 641.85,150.24 642.63,150.34 643.41,150.44 644.18,150.54 644.96,150.64 645.74,150.74 646.52,150.84 647.30,150.94"/>
<polyline stroke="#0000ff" points="386.60,172.13 387.38,172.05 388.16,171.98 388.93,171.90 389.71,171.83 390.49,171.75 391.27,171.68 392.05,171.60 392.83,171.53 393.60,171.45 394.38,171.38 395.16,171.30 395.94,171.23 396.72,171.15 397.49,171.08 398.27,171.00 399.05,170.93 399.83,170.85 400.61,170.78 401.39,170.70 402.16,170.63 402.94,170.55 403.72,170.48 404.50,170.41 405.28,170.33 406.06,170.26 406.83,170.18 407.61,170.11 408.39,170.04 409.17,169.96 409.95,169.89 410.72,169.81 411.50,169.74 412.28,169.67 413.06,169.59 413.84,169.52 414.62,169.45 415.39,169.37 416.17,169.30 416.95,169.23 417.73,169.15 418.51,169.08 419.28,169.01 420.06,168.94 420.84,168.86 421.62,168.79 422.40,168.72 423.18,168.65 423.95,168.57 424.73,168.50 425.51,168.43 426.29,168.36 427.07,168.29 427.84,168.22 428.62,168.14 429.40,168.07 430.18,168.00 430.96,167.93 431.74,167.86 432.51,167.79 433.29,167.72 434.07,167.65 434.85,167.58 435.63,167.51 436.40,167.44 437.18,167.37 437.96,167.30 438.74,167.23 439.52,167.16 440.30,167.09 441.07,167.02 441.85,166.96 442.63,166.89 443.41,166.82 444.19,166.75 444.96,166.68 445.74,166.62 446.52,166.55 447.30,166.48 448.08,166.42 448.86,166.35 449.63,166.28 450.41,166.22 451.19,166.15 451.97,166.08 452.75,166.02 453.53,165.95 454.30,165.89 455.08,165.82 455.86,165.76 456.64,165.69 457.42,165.63 458.19,165.57 458.97,165.50 459.75,165.44 460.53,165.38 461.31,165.31 462.09,165.25 462.86,165.19 463.64,165.13 464.42,165.06 465.20,165.00 465.98,164.94 466.75,164.88 467.53,164.82 468.31,164.76 469.09,164.70 469.87,164.64 470.65,164.58 471.42,164.52 472.20,164.46 472.98,164.40 473.76,164.34 474.54,164.29 475.31,164.23 476.09,164.17 476.87,164.11 477.65,164.06 478.43,164.00 479.21,163.94 479.98,163.89 480.76,163.83 481.54,163.78 482.32,163.72 483.10,163.67 483.88,163.61 484.65,163.56 485.43,163.50 486.21,163.45 486.99,163.40 487.77,163.35 488.54,163.29 489.32,163.24 490.10,163.19 490.88,163.14 491.66,163.09 492.44,163.04 493.21,162.99 493.99,162.94 494.77,162.89 495.55,162.84 496.33,162.79 497.10,162.74 497.88,162.70 498.66,162.65 499.44,162.60 500.22,162.56 501.00,162.51 501.77,162.46 502.55,162.42 503.33,162.37 504.11,162.33 504.89,162.29 505.66,162.24 506.44,162.20 507.22,162.16 508.00,162.11 508.78,162.07 509.56,162.03 510.33,161.99 511.11,161.95 511.89,161.91 512.67,161.87 513.45,161.83 514.22,161.79 515.00,161.76 515.78,161.72 516.56,161.68 517.34,161.65 518.12,161.61 518.89,161.58 519.67,161.54 520.45,161.51 521.23,161.47 522.01,161.44 522.79,161.41 523.56,161.38 524.34,161.35 525.12,161.32 525.90,161.29 526.68,161.26 527.45,161.23 528.23,161.20 529.01,161.18 529.79,161.15 530.57,161.12 531.35,161.10 532.12,161.08 532.90,161.05 533.68,161.03 534.46,161.01 535.24,160.99 536.01,160.96 536.79,160.95 537.57,160.93 538.35,160.91 539.13,160.89 539.91,160.87 540.68,160.86 541.46,160.84 542.24,160.83 543.02,160.81 543.80,160.80 544.57,160.79 545.35,160.77 546.13,160.76 546.91,160.75 547.69,160.74 548.47,160.73 549.24,160.72 550.02,160.72 550.80,160.71 551.58,160.70 552.36,160.70 553.13,160.69 553.91,160.69 554.69,160.68 555.47,160.68 556.25,160.68 557.03,160.68 557.80,160.67 558.58,160.67 559.36,160.67 560.14,160.67 560.92,160.67 561.69,160.68 562.47,160.68 563.25,160.68 564.03,160.68 564.81,160.69 565.59,160.69 566.36,160.70 567.14,160.70 567.92,160.71 568.70,160.72 569.48,160.73 570.26,160.74 571.03,160.74 571.81,160.75 572.59,160.77 573.37,160.78 574.15,160.79 574.92,160.80 575.70,160.81 576.48,160.83 577.26,160.84 578.04,160.86 578.82,160.88 579.59,160.89 580.37,160.91 581.15,160.93 581.93,160.95 582.71,160.97 583.48,160.99 584.26,161.01 585.04,161.03 585.82,161.05 586.60,161.07 587.38,161.10 588.15,161.12 588.93,161.15 589.71,161.17 590.49,161.20 591.27,161.22 592.04,161.25 592.82,161.28 593.60,161.31 594.38,161.34 595.16,161.37 595.94,161.40 596.71,161.43 597.49,161.46 598.27,161.49 599.05,161.52 599.83,161.55 600.61,161.59 601.38,161.62 602.16,161.66 602.94,161.69 603.72,161.73 604.50,161.76 605.27,161.80 606.05,161.84 606.83,161.88 607.61,161.91 608.39,161.95 609.17,161.99 609.94,162.03 610.72,162.07 611.50,162.11 612.28,162.15 613.06,162.19 613.83,162.23 614.61,162.28 615.39,162.32 616.17,162.36 616.95,162.41 617.73,162.45 618.50,162.49 619.28,162.54 620.06,162.58 620.84,162.63 621.62,162.68 622.39,162.72 623.17,162.77 623.95,162.82 624.73,162.86 625.51,162.91 626.29,162.96 627.06,163.01 627.84,163.06 628.62,163.11 629.40,163.16 630.18,163.21 630.95,163.26 631.73,163.31 632.51,163.36 633.29,163.41 634.07,163.46 634.85,163.52 635.62,163.57 636.40,163.62 637.18,163.68 637.96,163.73 638.74,163.79 639.51,163.84 640.29,163.89 641.07,163.95 641.85,164.01 642.63,164.06 643.41,164.12 644.18,164.17 644.96,164.23 645.74,164.29 646.52,164.35 647.30,164.40"/>
<polyline stroke="#00ffff" points="386.60,180.60 387.38,180.55 388.16,180.50 388.93,180.45 389.71,180.40 390.49,180.35 391.27,180.30 392.05,180.25 392.83,180.20 393.60,180.15 394.38,180.10 395.16,180.05 395.94,180.00 396.72,179.95 397.49,179.91 398.27,179.86 399.05,179.81 399.83,179.76 400.61,179.71 401.39,179.66 402.16,179.61 402.94,179.56 403.72,179.51 404.50,179.47 405.28,179.42 406.06,179.37 406.83,179.32 407.61,179.27 408.39,179.22 409.17,179.18 409.95,179.13 410.72,179.08 411.50,179.03 412.28,178.99 413.06,178.94 413.84,178.89 414.62,178.84 415.39,178.80 416.17,178.75 416.95,178.70 417.73,178.66 418.51,178.61 419.28,178.56 420.06,178.52 420.84,178.47 421.62,178.42 422.40,178.38 423.18,178.33 423.95,178.28 424.73,178.24 425.51,178.19 426.29,178.15 427.07,178.10 427.84,178.06 428.62,178.01 429.40,177.97 430.18,177.92 430.96,177.88 431.74,177.83 432.51,177.79 433.29,177.74 434.07,177.70 434.85,177.65 435.63,177.61 436.40,177.57 437.18,177.52 437.96,177.48 438.74,177.44 439.52,177.39 440.30,177.35 441.07,177.31 441.85,177.26 442.63,177.22 443.41,177.18 444.19,177.14 444.96,177.10 445.74,177.05 446.52,177.01 447.30,176.97 448.08,176.93 448.86,176.89 449.63,176.85 450.41,176.80 451.19,176.76 451.97,176.72 452.75,176.68 453.53,176.64 454.30,176.60 455.08,176.56 455.86,176.52 456.64,176.48 457.42,176.44 458.19,176.40 458.97,176.37 459.75,176.33 460.53,176.29 461.31,176.25 462.09,176.21 462.86,176.17 463.64,176.14 464.42,176.10 465.20,176.06 465.98,176.02 466.75,175.99 467.53,175.95 468.31,175.91 469.09,175.88 469.87,175.84 470.65,175.80 471.42,175.77 472.20,175.73 472.98,175.70 473.76,175.66 474.54,175.63 475.31,175.59 476.09,175.56 476.87,175.52 477.65,175.49 478.43,175.45 479.21,175.42 479.98,175.39 480.76,175.35 481.54,175.32 482.32,175.29 483.10,175.26 483.88,175.22 484.65,175.19 485.43,175.16 486.21,175.13 486.99,175.10 487.77,175.06 488.54,175.03 489.32,175.00 490.10,174.97 490.88,174.94 491.66,174.91 492.44,174.88 493.21,174.85 493.99,174.82 494.77,174.79 495.55,174.77 496.33,174.74 497.10,174.71 497.88,174.68 498.66,174.65 499.44,174.63 500.22,174.60 501.00,174.57 501.77,174.54 502.55,174.52 503.33,174.49 504.11,174.47 504.89,174.44 505.66,174.41 506.44,174.39 507.22,174.36 508.00,174.34 508.78,174.32 509.56,174.29 510.33,174.27 511.11,174.24 511.89,174.22 512.67,174.20 513.45,174.18 514.22,174.15 515.00,174.13 515.78,174.11 516.56,174.09 517.34,174.07 518.12,174.05 518.89,174.03 519.67,174.01 520.45,173.99 521.23,173.97 522.01,173.95 522.79,173.93 523.56,173.91 524.34,173.89 525.12,173.88 525.90,173.86 526.68,173.84 527.45,173.83 528.23,173.81 529.01,173.79 529.79,173.78 530.57,173.77 531.35,173.75 532.12,173.74 532.90,173.72 533.68,173.71 534.46,173.70 535.24,173.69 536.01,173.67 536.79,173.66 537.57,173.65 538.35,173.64 539.13,173.63 539.91,173.62 540.68,173.61 541.46,173.60 542.24,173.59 543.02,173.59 543.80,173.58 544.57,173.57 545.35,173.56 546.13,173.56 546.91,173.55 547.69,173.55 548.47,173.54 549.24,173.54 550.02,173.53 550.80,173.53 551.58,173.52 552.36,173.52 553.13,173.52 553.91,173.51 554.69,173.51 555.47,173.51 556.25,173.51 557.03,173.51 557.80,173.51 558.58,173.51 559.36,173.51 560.14,173.51 560.92,173.51 561.69,173.51 562.47,173.51 563.25,173.51 564.03,173.51 564.81,173.52 565.59,173.52 566.36,173.52 567.14,173.52 567.92,173.53 568.70,173.53 569.48,173.54 570.26,173.54 571.03,173.55 571.81,173.55 572.59,173.56 573.37,173.57 574.15,173.57 574.92,173.58 575.70,173.59 576.48,173.60 577.26,173.60 578.04,173.61 578.82,173.62 579.59,173.63 580.37,173.64 581.15,173.65 581.93,173.66 582.71,173.67 583.48,173.69 584.26,173.70 585.04,173.71 585.82,173.72 586.60,173.74 587.38,173.75 588.15,173.76 588.93,173.78 589.71,173.79 590.49,173.81 591.27,173.82 592.04,173.84 592.82,173.85 593.60,173.87 594.38,173.89 595.16,173.90 595.94,173.92 596.71,173.94 597.49,173.96 598.27,173.98 599.05,173.99 599.83,174.01 600.61,174.03 601.38,174.05 602.16,174.07 602.94,174.09 603.72,174.11 604.50,174.13 605.27,174.16 606.05,174.18 606.83,174.20 607.61,174.22 608.39,174.24 609.17,174.27 609.94,174.29 610.72,174.31 611.50,174.34 612.28,174.36 613.06,174.38 613.83,174.41 614.61,174.43 615.39,174.46 616.17,174.48 616.95,174.51 617.73,174.54 618.50,174.56 619.28,174.59 620.06,174.61 620.84,174.64 621.62,174.67 622.39,174.70 623.17,174.72 623.95,174.75 624.73,174.78 625.51,174.81 626.29,174.84 627.06,174.86 627.84,174.89 628.62,174.92 629.40,174.95 630.18,174.98 630.95,175.01 631.73,175.04 632.51,175.07 633.29,175.10 634.07,175.14 634.85,175.17 635.62,175.20 636.40,175.23 637.18,175.26 637.96,175.29 638.74,175.33 639.51,175.36 640.29,175.39 641.07,175.43 641.85,175.46 642.63,175.49 643.41,175.53 644.18,175.56 644.96,175.59 645.74,175.63 646.52,175.66 647.30,175.70"/>
<polyline stroke="#ff00ff" points="386.60,188.41 387.38,188.38 388.16,188.34 388.93,188.31 389.71,188.28 390.49,188.25 391.27,188.21 392.05,188.18 392.83,188.15 393.60,188.12 394.38,188.09 395.16,188.05 395.94,188.02 396.72,187.99 397.49,187.96 398.27,187.93 399.05,187.90 399.83,187.86 400.61,187.83 401.39,187.80 402.16,187.77 402.94,187.74 403.72,187.71 404.50,187.68 405.28,187.64 406.06,187.61 406.83,187.58 407.61,187.55 408.39,187.52 409.17,187.49 409.95,187.46 410.72,187.43 411.50,187.40 412.28,187.37 413.06,187.34 413.84,187.31 414.62,187.28 415.39,187.25 416.17,187.22 416.95,187.19 417.73,187.16 418.51,187.13 419.28,187.10 420.06,187.07 420.84,187.04 421.62,187.01 422.40,186.98 423.18,186.95 423.95,186.92 424.73,186.89 425.51,186.87 426.29,186.84 427.07,186.81 427.84,186.78 428.62,186.75 429.40,186.72 430.18,186.69 430.96,186.67 431.74,186.64 432.51,186.61 433.29,186.58 434.07,186.55 434.85,186.53 435.63,186.50 436.40,186.47 437.18,186.44 437.96,186.42 438.74,186.39 439.52,186.36 440.30,186.34 441.07,186.31 441.85,186.28 442.63,186.26 443.41,186.23 444.19,186.20 444.96,186.18 445.74,186.15 446.52,186.13 447.30,186.10 448.08,186.07 448.86,186.05 449.63,186.02 450.41,186.00 451.19,185.97 451.97,185.95 452.75,185.92 453.53,185.90 454.30,185.87 455.08,185.85 455.86,185.82 456.64,185.80 457.42,185.77 458.19,185.75 458.97,185.73 459.75,185.70 460.53,185.68 461.31,185.65 462.09,185.63 462.86,185.61 463.64,185.58 464.42,185.56 465.20,185.54 465.98,185.51 466.75,185.49 467.53,185.47 468.31,185.45 469.09,185.42 469.87,185.40 470.65,185.38 471.42,185.36 472.20,185.34 472.98,185.31 473.76,185.29 474.54,185.27 475.31,185.25 476.09,185.23 476.87,185.21 477.65,185.19 478.43,185.17 479.21,185.15 479.98,185.13 480.76,185.11 481.54,185.09 482.32,185.07 483.10,185.05 483.88,185.03 484.65,185.01 485.43,184.99 486.21,184.97 486.99,184.95 487.77,184.93 488.54,184.91 489.32,184.89 490.10,184.87 490.88,184.86 491.66,184.84 492.44,184.82 493.21,184.80 493.99,184.78 494.77,184.77 495.55,184.75 496.33,184.73 497.10,184.72 497.88,184.70 498.66,184.68 499.44,184.66 500.22,184.65 501.00,184.63 501.77,184.62 502.55,184.60 503.33,184.58 504.11,184.57 504.89,184.55 505.66,184.54 506.44,184.52 507.22,184.51 508.00,184.49 508.78,184.48 509.56,184.46 510.33,184.45 511.11,184.44 511.89,184.42 512.67,184.41 513.45,184.39 514.22,184.38 515.00,184.37 515.78,184.36 516.56,184.34 517.34,184.33 518.12,184.32 518.89,184.31 519.67,184.29 520.45,184.28 521.23,184.27 522.01,184.26 522.79,184.25 523.56,184.24 524.34,184.23 525.12,184.22 525.90,184.21 526.68,184.20 527.45,184.19 528.23,184.18 529.01,184.17 529.79,184.16 530.57,184.15 531.35,184.14 532.12,184.13 532.90,184.13 533.68,184.12 534.46,184.11 535.24,184.10 536.01,184.10 536.79,184.09 537.57,184.08 538.35,184.08 539.13,184.07 539.91,184.06 540.68,184.06 541.46,184.05 542.24,184.05 543.02,184.04 543.80,184.04 544.57,184.03 545.35,184.03 546.13,184.03 546.91,184.02 547.69,184.02 548.47,184.02 549.24,184.01 550.02,184.01 550.80,184.01 551.58,184.01 552.36,184.00 553.13,184.00 553.91,184.00 554.69,184.00 555.47,184.00 556.25,184.00 557.03,184.00 557.80,184.00 558.58,184.00 559.36,184.00 560.14,184.00 560.92,184.00 561.69,184.00 562.47,184.00 563.25,184.00 564.03,184.00 564.81,184.00 565.59,184.00 566.36,184.01 567.14,184.01 567.92,184.01 568.70,184.01 569.48,184.01 570.26,184.02 571.03,184.02 571.81,184.02 572.59,184.03 573.37,184.03 574.15,184.04 574.92,184.04 575.70,184.04 576.48,184.05 577.26,184.05 578.04,184.06 578.82,184.06 579.59,184.07 580.37,184.08 581.15,184.08 581.93,184.09 582.71,184.10 583.48,184.10 584.26,184.11 585.04,184.12 585.82,184.12 586.60,184.13 587.38,184.14 588.15,184.15 588.93,184.16 589.71,184.17 590.49,184.17 591.27,184.18 592.04,184.19 592.82,184.20 593.60,184.21 594.38,184.22 595.16,184.23 595.94,184.24 596.71,184.25 597.49,184.26 598.27,184.28 599.05,184.29 599.83,184.30 600.61,184.31 601.38,184.32 602.16,184.33 602.94,184.35 603.72,184.36 604.50,184.37 605.27,184.38 606.05,184.40 606.83,184.41 607.61,184.42 608.39,184.44 609.17,184.45 609.94,184.46 610.72,184.48 611.50,184.49 612.28,184.51 613.06,184.52 613.83,184.54 614.61,184.55 615.39,184.56 616.17,184.58 616.95,184.60 617.73,184.61 618.50,184.63 619.28,184.64 620.06,184.66 620.84,184.67 621.62,184.69 622.39,184.71 623.17,184.72 623.95,184.74 624.73,184.76 625.51,184.77 626.29,184.79 627.06,184.81 627.84,184.83 628.62,184.84 629.40,184.86 630.18,184.88 630.95,184.90 631.73,184.92 632.51,184.94 633.29,184.95 634.07,184.97 634.85,184.99 635.62,185.01 636.40,185.03 637.18,185.05 637.96,185.07 638.74,185.09 639.51,185.11 640.29,185.13 641.07,185.15 641.85,185.17 642.63,185.19 643.41,185.21 644.18,185.23 644.96,185.25 645.74,185.27 646.52,185.29 647.30,185.32"/>
<polyline stroke="#ffff00" points="386.60,195.53 387.38,195.51 388.16,195.49 388.93,195.47 389.71,195.45 390.49,195.43 391.27,195.41 392.05,195.39 392.83,195.37 393.60,195.35 394.38,195.33 395.16,195.31 395.94,195.29 396.72,195.27 397.49,195.25 398.27,195.23 399.05,195.21 399.83,195.19 400.61,195.18 401.39,195.16 402.16,195.14 402.94,195.12 403.72,195.10 404.50,195.08 405.28,195.06 406.06,195.04 406.83,195.02 407.61,195.00 408.39,194.98 409.17,194.97 409.95,194.95 410.72,194.93 411.50,194.91 412.28,194.89 413.06,194.87 413.84,194.85 414.62,194.83 415.39,194.82 416.17,194.80 416.95,194.78 417.73,194.76 418.51,194.74 419.28,194.73 420.06,194.71 420.84,194.69 421.62,194.67 422.40,194.65 423.18,194.64 423.95,194.62 424.73,194.60 425.51,194.58 426.29,194.57 427.07,194.55 427.84,194.53 428.62,194.51 429.40,194.50 430.18,194.48 430.96,194.46 431.74,194.44 432.51,194.43 433.29,194.41 434.07,194.39 434.85,194.38 435.63,194.36 436.40,194.34 437.18,194.33 437.96,194.31 438.74,194.29 439.52,194.28 440.30,194.26 441.07,194.24 441.85,194.23 442.63,194.21 443.41,194.20 444.19,194.18 444.96,194.16 445.74,194.15 446.52,194.13 447.30,194.12 448.08,194.10 448.86,194.09 449.63,194.07 450.41,194.06 451.19,194.04 451.97,194.03 452.75,194.01 453.53,194.00 454.30,193.98 455.08,193.97 455.86,193.95 456.64,193.94 457.42,193.92 458.19,193.91 458.97,193.89 459.75,193.88 460.53,193.86 461.31,193.85 462.09,193.84 462.86,193.82 463.64,193.81 464.42,193.79 465.20,193.78 465.98,193.77 466.75,193.75 467.53,193.74 468.31,193.73 469.09,193.71 469.87,193.70 470.65,193.69 471.42,193.67 472.20,193.66 472.98,193.65 473.76,193.63 474.54,193.62 475.31,193.61 476.09,193.60 476.87,193.58 477.65,193.57 478.43,193.56 479.21,193.55 479.98,193.53 480.76,193.52 481.54,193.51 482.32,193.50 483.10,193.49 483.88,193.48 484.65,193.46 485.43,193.45 486.21,193.44 486.99,193.43 487.77,193.42 488.54,193.41 489.32,193.40 490.10,193.39 490.88,193.37 491.66,193.36 492.44,193.35 493.21,193.34 493.99,193.33 494.77,193.32 495.55,193.31 496.33,193.30 497.10,193.29 497.88,193.28 498.66,193.27 499.44,193.26 500.22,193.25 501.00,193.24 501.77,193.23 502.55,193.22 503.33,193.21 504.11,193.20 504.89,193.20 505.66,193.19 506.44,193.18 507.22,193.17 508.00,193.16 508.78,193.15 509.56,193.14 510.33,193.13 511.11,193.13 511.89,193.12 512.67,193.11 513.45,193.10 514.22,193.09 515.00,193.09 515.78,193.08 516.56,193.07 517.34,193.06 518.12,193.06 518.89,193.05 519.67,193.04 520.45,193.04 521.23,193.03 522.01,193.02 522.79,193.02 523.56,193.01 524.34,193.00 525.12,193.00 525.90,192.99 526.68,192.99 527.45,192.98 528.23,192.97 529.01,192.97 529.79,192.96 530.57,192.96 531.35,192.95 532.12,192.95 532.90,192.94 533.68,192.94 534.46,192.93 535.24,192.93 536.01,192.93 536.79,192.92 537.57,192.92 538.35,192.91 539.13,192.91 539.91,192.91 540.68,192.90 541.46,192.90 542.24,192.90 543.02,192.90 543.80,192.89 544.57,192.89 545.35,192.89 546.13,192.89 546.91,192.88 547.69,192.88 548.47,192.88 549.24,192.88 550.02,192.88 550.80,192.88 551.58,192.87 552.36,192.87 553.13,192.87 553.91,192.87 554.69,192.87 555.47,192.87 556.25,192.87 557.03,192.87 557.80,192.87 558.58,192.87 559.36,192.87 560.14,192.87 560.92,192.87 561.69,192.87 562.47,192.87 563.25,192.87 564.03,192.87 564.81,192.87 565.59,192.87 566.36,192.87 567.14,192.87 567.92,192.88 568.70,192.88 569.48,192.88 570.26,192.88 571.03,192.88 571.81,192.88 572.59,192.89 573.37,192.89 574.15,192.89 574.92,192.89 575.70,192.90 576.48,192.90 577.26,192.90 578.04,192.90 578.82,192.91 579.59,192.91 580.37,192.91 581.15,192.92 581.93,192.92 582.71,192.93 583.48,192.93 584.26,192.93 585.04,192.94 585.82,192.94 586.60,192.95 587.38,192.95 588.15,192.96 588.93,192.96 589.71,192.97 590.49,192.97 591.27,192.98 592.04,192.98 592.82,192.99 593.60,192.99 594.38,193.00 595.16,193.01 595.94,193.01 596.71,193.02 597.49,193.03 598.27,193.03 599.05,193.04 599.83,193.05 600.61,193.05 601.38,193.06 602.16,193.07 602.94,193.07 603.72,193.08 604.50,193.09 605.27,193.10 606.05,193.10 606.83,193.11 607.61,193.12 608.39,193.13 609.17,193.13 609.94,193.14 610.72,193.15 611.50,193.16 612.28,193.17 613.06,193.18 613.83,193.18 614.61,193.19 615.39,193.20 616.17,193.21 616.95,193.22 617.73,193.23 618.50,193.24 619.28,193.25 620.06,193.26 620.84,193.27 621.62,193.28 622.39,193.29 623.17,193.30 623.95,193.31 624.73,193.32 625.51,193.33 626.29,193.34 627.06,193.35 627.84,193.36 628.62,193.37 629.40,193.38 630.18,193.39 630.95,193.40 631.73,193.41 632.51,193.42 633.29,193.43 634.07,193.44 634.85,193.46 635.62,193.47 636.40,193.48 637.18,193.49 637.96,193.50 638.74,193.51 639.51,193.52 640.29,193.54 641.07,193.55 641.85,193.56 642.63,193.57 643.41,193.59 644.18,193.60 644.96,193.61 645.74,193.62 646.52,193.64 647.30,193.65"/>
<polyline stroke="#808000" points="386.60,202.02 387.38,202.01 388.16,202.00 388.93,201.99 389.71,201.98 390.49,201.97 391.27,201.96 392.05,201.95 392.83,201.93 393.60,201.92 394.38,201.91 395.16,201.90 395.94,201.89 396.72,201.88 397.49,201.87 398.27,201.86 399.05,201.85 399.83,201.84 400.61,201.82 401.39,201.81 402.16,201.80 402.94,201.79 403.72,201.78 404.50,201.77 405.28,201.76 406.06,201.75 406.83,201.74 407.61,201.73 408.39,201.72 409.17,201.71 409.95,201.70 410.72,201.69 411.50,201.68 412.28,201.66 413.06,201.65 413.84,201.64 414.62,201.63 415.39,201.62 416.17,201.61 416.95,201.60 417.73,201.59 418.51,201.58 419.28,201.57 420.06,201.56 420.84,201.55 421.62,201.54 422.40,201.53 423.18,201.52 423.95,201.51 424.73,201.50 425.51,201.49 426.29,201.48 427.07,201.47 427.84,201.46 428.62,201.45 429.40,201.45 430.18,201.44 430.96,201.43 431.74,201.42 432.51,201.41 433.29,201.40 434.07,201.39 434.85,201.38 435.63,201.37 436.40,201.36 437.18,201.35 437.96,201.34 438.74,201.33 439.52,201.32 440.30,201.32 441.07,201.31 441.85,201.30 442.63,201.29 443.41,201.28 444.19,201.27 444.96,201.26 445.74,201.25 446.52,201.24 447.30,201.24 448.08,201.23 448.86,201.22 449.63,201.21 450.41,201.20 451.19,201.19 451.97,201.19 452.75,201.18 453.53,201.17 454.30,201.16 455.08,201.15 455.86,201.14 456.64,201.14 457.42,201.13 458.19,201.12 458.97,201.11 459.75,201.10 460.53,201.10 461.31,201.09 462.09,201.08 462.86,201.07 463.64,201.07 464.42,201.06 465.20,201.05 465.98,201.04 466.75,201.04 467.53,201.03 468.31,201.02 469.09,201.01 469.87,201.01 470.65,201.00 471.42,200.99 472.20,200.98 472.98,200.98 473.76,200.97 474.54,200.96 475.31,200.96 476.09,200.95 476.87,200.94 477.65,200.94 478.43,200.93 479.21,200.92 479.98,200.92 480.76,200.91 481.54,200.90 482.32,200.90 483.10,200.89 483.88,200.88 484.65,200.88 485.43,200.87 486.21,200.87 486.99,200.86 487.77,200.85 488.54,200.85 489.32,200.84 490.10,200.83 490.88,200.83 491.66,200.82 492.44,200.82 493.21,200.81 493.99,200.81 494.77,200.80 495.55,200.79 496.33,200.79 497.10,200.78 497.88,200.78 498.66,200.77 499.44,200.77 500.22,200.76 501.00,200.76 501.77,200.75 502.55,200.75 503.33,200.74 504.11,200.74 504.89,200.73 505.66,200.73 506.44,200.72 507.22,200.72 508.00,200.71 508.78,200.71 509.56,200.70 510.33,200.70 511.11,200.69 511.89,200.69 512.67,200.69 513.45,200.68 514.22,200.68 515.00,200.67 515.78,200.67 516.56,200.66 517.34,200.66 518.12,200.66 518.89,200.65 519.67,200.65 520.45,200.64 521.23,200.64 522.01,200.64 522.79,200.63 523.56,200.63 524.34,200.63 525.12,200.62 525.90,200.62 526.68,200.62 527.45,200.61 528.23,200.61 529.01,200.61 529.79,200.61 530.57,200.60 531.35,200.60 532.12,200.60 532.90,200.59 533.68,200.59 534.46,200.59 535.24,200.59 536.01,200.59 536.79,200.58 537.57,200.58 538.35,200.58 539.13,200.58 539.91,200.58 540.68,200.57 541.46,200.57 542.24,200.57 543.02,200.57 543.80,200.57 544.57,200.57 545.35,200.56 546.13,200.56 546.91,200.56 547.69,200.56 548.47,200.56 549.24,200.56 550.02,200.56 550.80,200.56 551.58,200.56 552.36,200.56 553.13,200.56 553.91,200.56 554.69,200.56 555.47,200.55 556.25,200.55 557.03,200.55 557.80,200.55 558.58,200.55 559.36,200.55 560.14,200.55 560.92,200.55 561.69,200.55 562.47,200.55 563.25,200.55 564.03,200.56 564.81,200.56 565.59,200.56 566.36,200.56 567.14,200.56 567.92,200.56 568.70,200.56 569.48,200.56 570.26,200.56 571.03,200.56 571.81,200.56 572.59,200.56 573.37,200.57 574.15,200.57 574.92,200.57 575.70,200.57 576.48,200.57 577.26,200.57 578.04,200.57 578.82,200.58 579.59,200.58 580.37,200.58 581.15,200.58 581.93,200.58 582.71,200.59 583.48,200.59 584.26,200.59 585.04,200.59 585.82,200.59 586.60,200.60 587.38,200.60 588.15,200.60 588.93,200.61 589.71,200.61 590.49,200.61 591.27,200.61 592.04,200.62 592.82,200.62 593.60,200.62 594.38,200.63 595.16,200.63 595.94,200.63 596.71,200.64 597.49,200.64 598.27,200.64 599.05,200.65 599.83,200.65 600.61,200.65 601.38,200.66 602.16,200.66 602.94,200.67 603.72,200.67 604.50,200.67 605.27,200.68 606.05,200.68 606.83,200.69 607.61,200.69 608.39,200.69 609.17,200.70 609.94,200.70 610.72,200.71 611.50,200.71 612.28,200.72 613.06,200.72 613.83,200.73 614.61,200.73 615.39,200.74 616.17,200.74 616.95,200.74 617.73,200.75 618.50,200.75 619.28,200.76 620.06,200.77 620.84,200.77 621.62,200.78 622.39,200.78 623.17,200.79 623.95,200.79 624.73,200.80 625.51,200.80 626.29,200.81 627.06,200.81 627.84,200.82 628.62,200.83 629.40,200.83 630.18,200.84 630.95,200.84 631.73,200.85 632.51,200.85 633.29,200.86 634.07,200.87 634.85,200.87 635.62,200.88 636.40,200.89 637.18,200.89 637.96,200.90 638.74,200.90 639.51,200.91 640.29,200.92 641.07,200.92 641.85,200.93 642.63,200.94 643.41,200.94 644.18,200.95 644.96,200.96 645.74,200.96 646.52,200.97 647.30,200.98"/>
<polyline stroke="#000080" points="386.60,207.96 387.38,207.95 388.16,207.95 388.93,207.94 389.71,207.94 390.49,207.93 391.27,207.93 392.05,207.92 392.83,207.92 393.60,207.91 394.38,207.91 395.16,207.90 395.94,207.90 396.72,207.89 397.49,207.89 398.27,207.88 399.05,207.88 399.83,207.88 400.61,207.87 401.39,207.87 402.16,207.86 402.94,207.86 403.72,207.85 404.50,207.85 405.28,207.84 406.06,207.84 406.83,207.83 407.61,207.83 408.39,207.83 409.17,207.82 409.95,207.82 410.72,207.81 411.50,207.81 412.28,207.80 413.06,207.80 413.84,207.79 414.62,207.79 415.39,207.79 416.17,207.78 416.95,207.78 417.73,207.77 418.51,207.77 419.28,207.76 420.06,207.76 420.84,207.76 421.62,207.75 422.40,207.75 423.18,207.74 423.95,207.74 424.73,207.73 425.51,207.73 426.29,207.73 427.07,207.72 427.84,207.72 428.62,207.71 429.40,207.71 430.18,207.71 430.96,207.70 431.74,207.70 432.51,207.69 433.29,207.69 434.07,207.69 434.85,207.68 435.63,207.68 436.40,207.67 437.18,207.67 437.96,207.67 438.74,207.66 439.52,207.66 440.30,207.65 441.07,207.65 441.85,207.65 442.63,207.64 443.41,207.64 444.19,207.64 444.96,207.63 445.74,207.63 446.52,207.62 447.30,207.62 448.08,207.62 448.86,207.61 449.63,207.61 450.41,207.61 451.19,207.60 451.97,207.60 452.75,207.60 453.53,207.59 454.30,207.59 455.08,207.59 455.86,207.58 456.64,207.58 457.42,207.58 458.19,207.57 458.97,207.57 459.75,207.57 460.53,207.56 461.31,207.56 462.09,207.56 462.86,207.55 463.64,207.55 464.42,207.55 465.20,207.54 465.98,207.54 466.75,207.54 467.53,207.53 468.31,207.53 469.09,207.53 469.87,207.52 470.65,207.52 471.42,207.52 472.20,207.51 472.98,207.51 473.76,207.51 474.54,207.51 475.31,207.50 476.09,207.50 476.87,207.50 477.65,207.49 478.43,207.49 479.21,207.49 479.98,207.49 480.76,207.48 481.54,207.48 482.32,207.48 483.10,207.48 483.88,207.47 484.65,207.47 485.43,207.47 486.21,207.46 486.99,207.46 487.77,207.46 488.54,207.46 489.32,207.45 490.10,207.45 490.88,207.45 491.66,207.45 492.44,207.44 493.21,207.44 493.99,207.44 494.77,207.44 495.55,207.43 496.33,207.43 497.10,207.43 497.88,207.43 498.66,207.43 499.44,207.42 500.22,207.42 501.00,207.42 501.77,207.42 502.55,207.41 503.33,207.41 504.11,207.41 504.89,207.41 505.66,207.41 506.44,207.40 507.22,207.40 508.00,207.40 508.78,207.40 509.56,207.40 510.33,207.39 511.11,207.39 511.89,207.39 512.67,207.39 513.45,207.39 514.22,207.39 515.00,207.38 515.78,207.38 516.56,207.38 517.34,207.38 518.12,207.38 518.89,207.38 519.67,207.37 520.45,207.37 521.23,207.37 522.01,207.37 522.79,207.37 523.56,207.37 524.34,207.36 525.12,207.36 525.90,207.36 526.68,207.36 527.45,207.36 528.23,207.36 529.01,207.36 529.79,207.36 530.57,207.35 531.35,207.35 532.12,207.35 532.90,207.35 533.68,207.35 534.46,207.35 535.24,207.35 536.01,207.35 536.79,207.35 537.57,207.35 538.35,207.34 539.13,207.34 539.91,207.34 540.68,207.34 541.46,207.34 542.24,207.34 543.02,207.34 543.80,207.34 544.57,207.34 545.35,207.34 546.13,207.34 546.91,207.34 547.69,207.34 548.47,207.34 549.24,207.34 550.02,207.34 550.80,207.34 551.58,207.34 552.36,207.34 553.13,207.34 553.91,207.33 554.69,207.33 555.47,207.33 556.25,207.33 557.03,207.33 557.80,207.33 558.58,207.33 559.36,207.33 560.14,207.33 560.92,207.33 561.69,207.33 562.47,207.33 563.25,207.33 564.03,207.33 564.81,207.34 565.59,207.34 566.36,207.34 567.14,207.34 567.92,207.34 568.70,207.34 569.48,207.34 570.26,207.34 571.03,207.34 571.81,207.34 572.59,207.34 573.37,207.34 574.15,207.34 574.92,207.34 575.70,207.34 576.48,207.34 577.26,207.34 578.04,207.34 578.82,207.34 579.59,207.34 580.37,207.34 581.15,207.35 581.93,207.35 582.71,207.35 583.48,207.35 584.26,207.35 585.04,207.35 585.82,207.35 586.60,207.35 587.38,207.35 588.15,207.35 588.93,207.36 589.71,207.36 590.49,207.36 591.27,207.36 592.04,207.36 592.82,207.36 593.60,207.36 594.38,207.36 595.16,207.37 595.94,207.37 596.71,207.37 597.49,207.37 598.27,207.37 599.05,207.37 599.83,207.37 600.61,207.38 601.38,207.38 602.16,207.38 602.94,207.38 603.72,207.38 604.50,207.38 605.27,207.39 606.05,207.39 606.83,207.39 607.61,207.39 608.39,207.39 609.17,207.39 609.94,207.40 610.72,207.40 611.50,207.40 612.28,207.40 613.06,207.40 613.83,207.41 614.61,207.41 615.39,207.41 616.17,207.41 616.95,207.41 617.73,207.42 618.50,207.42 619.28,207.42 620.06,207.42 620.84,207.42 621.62,207.43 622.39,207.43 623.17,207.43 623.95,207.43 624.73,207.44 625.51,207.44 626.29,207.44 627.06,207.44 627.84,207.45 628.62,207.45 629.40,207.45 630.18,207.45 630.95,207.46 631.73,207.46 632.51,207.46 633.29,207.46 634.07,207.47 634.85,207.47 635.62,207.47 636.40,207.47 637.18,207.48 637.96,207.48 638.74,207.48 639.51,207.48 640.29,207.49 641.07,207.49 641.85,207.49 642.63,207.49 643.41,207.50 644.18,207.50 644.96,207.50 645.74,207.51 646.52,207.51 647.30,207.51"/>
</g>
<rect x="293.6" y="12.4" width="34.2" height="23.2" fill="#fff"/>
<g stroke="#6a6a6a" stroke-width="0.85" fill="none">
<path d="M329.00 11.60H69.60V211.20H329.00"/>
<path d="M69.60 211.20v-3.80 M69.60 11.60v2.40"/>
<path d="M102.03 211.20v-2.20 M102.03 11.60v1.30"/>
<path d="M134.45 211.20v-3.80 M134.45 11.60v2.40"/>
<path d="M166.88 211.20v-2.20 M166.88 11.60v1.30"/>
<path d="M199.30 211.20v-3.80 M199.30 11.60v2.40"/>
<path d="M231.72 211.20v-2.20 M231.72 11.60v1.30"/>
<path d="M264.15 211.20v-3.80 M264.15 11.60v2.40"/>
<path d="M296.57 211.20v-2.20 M296.57 11.60v1.30"/>
<path d="M329.00 211.20v-3.80 M329.00 11.60v2.40"/>
<path d="M69.60 211.20h3.80 M329.00 211.20h-2.40"/>
<path d="M69.60 196.18h1.80 M329.00 196.18h-1.10"/>
<path d="M69.60 187.39h1.80 M329.00 187.39h-1.10"/>
<path d="M69.60 181.16h1.80 M329.00 181.16h-1.10"/>
<path d="M69.60 176.32h1.80 M329.00 176.32h-1.10"/>
<path d="M69.60 172.37h1.80 M329.00 172.37h-1.10"/>
<path d="M69.60 169.03h1.80 M329.00 169.03h-1.10"/>
<path d="M69.60 166.14h1.80 M329.00 166.14h-1.10"/>
<path d="M69.60 163.58h1.80 M329.00 163.58h-1.10"/>
<path d="M69.60 161.30h3.80 M329.00 161.30h-2.40"/>
<path d="M69.60 146.28h1.80 M329.00 146.28h-1.10"/>
<path d="M69.60 137.49h1.80 M329.00 137.49h-1.10"/>
<path d="M69.60 131.26h1.80 M329.00 131.26h-1.10"/>
<path d="M69.60 126.42h1.80 M329.00 126.42h-1.10"/>
<path d="M69.60 122.47h1.80 M329.00 122.47h-1.10"/>
<path d="M69.60 119.13h1.80 M329.00 119.13h-1.10"/>
<path d="M69.60 116.24h1.80 M329.00 116.24h-1.10"/>
<path d="M69.60 113.68h1.80 M329.00 113.68h-1.10"/>
<path d="M69.60 111.40h3.80 M329.00 111.40h-2.40"/>
<path d="M69.60 96.38h1.80 M329.00 96.38h-1.10"/>
<path d="M69.60 87.59h1.80 M329.00 87.59h-1.10"/>
<path d="M69.60 81.36h1.80 M329.00 81.36h-1.10"/>
<path d="M69.60 76.52h1.80 M329.00 76.52h-1.10"/>
<path d="M69.60 72.57h1.80 M329.00 72.57h-1.10"/>
<path d="M69.60 69.23h1.80 M329.00 69.23h-1.10"/>
<path d="M69.60 66.34h1.80 M329.00 66.34h-1.10"/>
<path d="M69.60 63.78h1.80 M329.00 63.78h-1.10"/>
<path d="M69.60 61.50h3.80 M329.00 61.50h-2.40"/>
<path d="M69.60 46.48h1.80 M329.00 46.48h-1.10"/>
<path d="M69.60 37.69h1.80 M329.00 37.69h-1.10"/>
<path d="M69.60 31.46h1.80 M329.00 31.46h-1.10"/>
<path d="M69.60 26.62h1.80 M329.00 26.62h-1.10"/>
<path d="M69.60 22.67h1.80 M329.00 22.67h-1.10"/>
<path d="M69.60 19.33h1.80 M329.00 19.33h-1.10"/>
<path d="M69.60 16.44h1.80 M329.00 16.44h-1.10"/>
<path d="M69.60 13.88h1.80 M329.00 13.88h-1.10"/>
<path d="M69.60 11.60h3.80 M329.00 11.60h-2.40"/>
</g>
<g stroke="#6a6a6a" stroke-width="0.85" fill="none">
<path d="M646.00 14.50H386.60V213.40H646.00"/>
<path d="M386.60 213.40v-2.80 M386.60 14.50v2.40"/>
<path d="M419.03 213.40v-1.60 M419.03 14.50v1.30"/>
<path d="M451.45 213.40v-2.80 M451.45 14.50v2.40"/>
<path d="M483.88 213.40v-1.60 M483.88 14.50v1.30"/>
<path d="M516.30 213.40v-2.80 M516.30 14.50v2.40"/>
<path d="M548.72 213.40v-1.60 M548.72 14.50v1.30"/>
<path d="M581.15 213.40v-2.80 M581.15 14.50v2.40"/>
<path d="M613.57 213.40v-1.60 M613.57 14.50v1.30"/>
<path d="M646.00 213.40v-2.80 M646.00 14.50v2.40"/>
<path d="M386.60 213.40h3.80 M646.00 213.40h-2.40"/>
<path d="M386.60 193.44h1.80 M646.00 193.44h-1.10"/>
<path d="M386.60 181.77h1.80 M646.00 181.77h-1.10"/>
<path d="M386.60 173.48h1.80 M646.00 173.48h-1.10"/>
<path d="M386.60 167.06h1.80 M646.00 167.06h-1.10"/>
<path d="M386.60 161.81h1.80 M646.00 161.81h-1.10"/>
<path d="M386.60 157.37h1.80 M646.00 157.37h-1.10"/>
<path d="M386.60 153.53h1.80 M646.00 153.53h-1.10"/>
<path d="M386.60 150.13h1.80 M646.00 150.13h-1.10"/>
<path d="M386.60 147.10h3.80 M646.00 147.10h-2.40"/>
<path d="M386.60 127.14h1.80 M646.00 127.14h-1.10"/>
<path d="M386.60 115.47h1.80 M646.00 115.47h-1.10"/>
<path d="M386.60 107.18h1.80 M646.00 107.18h-1.10"/>
<path d="M386.60 100.76h1.80 M646.00 100.76h-1.10"/>
<path d="M386.60 95.51h1.80 M646.00 95.51h-1.10"/>
<path d="M386.60 91.07h1.80 M646.00 91.07h-1.10"/>
<path d="M386.60 87.23h1.80 M646.00 87.23h-1.10"/>
<path d="M386.60 83.83h1.80 M646.00 83.83h-1.10"/>
<path d="M386.60 80.80h3.80 M646.00 80.80h-2.40"/>
<path d="M386.60 60.84h1.80 M646.00 60.84h-1.10"/>
<path d="M386.60 49.17h1.80 M646.00 49.17h-1.10"/>
<path d="M386.60 40.88h1.80 M646.00 40.88h-1.10"/>
<path d="M386.60 34.46h1.80 M646.00 34.46h-1.10"/>
<path d="M386.60 29.21h1.80 M646.00 29.21h-1.10"/>
<path d="M386.60 24.77h1.80 M646.00 24.77h-1.10"/>
<path d="M386.60 20.93h1.80 M646.00 20.93h-1.10"/>
<path d="M386.60 17.53h1.80 M646.00 17.53h-1.10"/>
<path d="M386.60 14.50h3.80 M646.00 14.50h-2.40"/>
</g>
<text font-size="21" y="232.70" fill="#000"><tspan x="59.45" text-anchor="middle">0</tspan><tspan x="67.42" text-anchor="middle">.</tspan><tspan x="79.75" text-anchor="middle">9</tspan></text>
<text font-size="21" y="232.70" fill="#000"><tspan x="124.30" text-anchor="middle">1</tspan><tspan x="132.28" text-anchor="middle">.</tspan><tspan x="144.60" text-anchor="middle">0</tspan></text>
<text font-size="21" y="232.70" fill="#000"><tspan x="189.15" text-anchor="middle">1</tspan><tspan x="197.13" text-anchor="middle">.</tspan><tspan x="209.45" text-anchor="middle">1</tspan></text>
<text font-size="21" y="232.70" fill="#000"><tspan x="254.00" text-anchor="middle">1</tspan><tspan x="261.98" text-anchor="middle">.</tspan><tspan x="274.30" text-anchor="middle">2</tspan></text>
<text font-size="21" y="232.70" fill="#000"><tspan x="318.85" text-anchor="middle">1</tspan><tspan x="326.82" text-anchor="middle">.</tspan><tspan x="339.15" text-anchor="middle">3</tspan></text>
<text font-size="21" y="234.70" fill="#000"><tspan x="376.45" text-anchor="middle">0</tspan><tspan x="384.42" text-anchor="middle">.</tspan><tspan x="396.75" text-anchor="middle">9</tspan></text>
<text font-size="21" y="234.70" fill="#000"><tspan x="441.30" text-anchor="middle">1</tspan><tspan x="449.27" text-anchor="middle">.</tspan><tspan x="461.60" text-anchor="middle">0</tspan></text>
<text font-size="21" y="234.70" fill="#000"><tspan x="506.15" text-anchor="middle">1</tspan><tspan x="514.12" text-anchor="middle">.</tspan><tspan x="526.45" text-anchor="middle">1</tspan></text>
<text font-size="21" y="234.70" fill="#000"><tspan x="571.00" text-anchor="middle">1</tspan><tspan x="578.98" text-anchor="middle">.</tspan><tspan x="591.30" text-anchor="middle">2</tspan></text>
<text font-size="21" y="234.70" fill="#000"><tspan x="635.85" text-anchor="middle">1</tspan><tspan x="643.82" text-anchor="middle">.</tspan><tspan x="656.15" text-anchor="middle">3</tspan></text>
<text font-size="20" x="59.30" y="20.90" text-anchor="end">10</text>
<text font-size="13.6" x="59.60" y="12.80">0</text>
<text font-size="20" x="51.40" y="120.90" text-anchor="end">10</text>
<text font-size="13.6" x="51.70" y="112.80">−2</text>
<text font-size="20" x="51.60" y="220.50" text-anchor="end">10</text>
<text font-size="13.6" x="51.90" y="212.10">−4</text>
<text font-size="20" x="375.80" y="84.50" text-anchor="end">10</text>
<text font-size="13.6" x="376.00" y="75.10">2</text>
<text font-size="20" x="375.50" y="217.10" text-anchor="end">10</text>
<text font-size="13.6" x="375.70" y="208.10">0</text>
<path d="M78.60 87.95H101.50" stroke="#ff0000" stroke-width="1.35" stroke-linecap="round"/>
<text font-size="12" y="92.00" text-anchor="middle"><tspan x="110.10" font-size="11.2">p</tspan><tspan x="115.70" font-size="10.6" fill="#444">=</tspan><tspan x="122.00">0</tspan><tspan x="126.00">.</tspan><tspan x="133.30">1</tspan></text>
<path d="M78.60 100.55H101.50" stroke="#0000ff" stroke-width="1.35" stroke-linecap="round"/>
<text font-size="12" y="104.60" text-anchor="middle"><tspan x="110.10" font-size="11.2">p</tspan><tspan x="115.70" font-size="10.6" fill="#444">=</tspan><tspan x="122.00">0</tspan><tspan x="126.00">.</tspan><tspan x="133.30">2</tspan></text>
<path d="M78.60 113.15H101.50" stroke="#008080" stroke-width="1.35" stroke-linecap="round"/>
<text font-size="12" y="117.20" text-anchor="middle"><tspan x="110.10" font-size="11.2">p</tspan><tspan x="115.70" font-size="10.6" fill="#444">=</tspan><tspan x="122.00">0</tspan><tspan x="126.00">.</tspan><tspan x="133.30">3</tspan></text>
<path d="M78.60 125.75H101.50" stroke="#ff00ff" stroke-width="1.35" stroke-linecap="round"/>
<text font-size="12" y="129.80" text-anchor="middle"><tspan x="110.10" font-size="11.2">p</tspan><tspan x="115.70" font-size="10.6" fill="#444">=</tspan><tspan x="122.00">0</tspan><tspan x="126.00">.</tspan><tspan x="133.30">4</tspan></text>
<path d="M78.60 138.35H101.50" stroke="#808000" stroke-width="1.35" stroke-linecap="round"/>
<text font-size="12" y="142.40" text-anchor="middle"><tspan x="110.10" font-size="11.2">p</tspan><tspan x="115.70" font-size="10.6" fill="#444">=</tspan><tspan x="122.00">0</tspan><tspan x="126.00">.</tspan><tspan x="133.30">5</tspan></text>
<path d="M78.60 150.95H101.50" stroke="#000080" stroke-width="1.35" stroke-linecap="round"/>
<text font-size="12" y="155.00" text-anchor="middle"><tspan x="110.10" font-size="11.2">p</tspan><tspan x="115.70" font-size="10.6" fill="#444">=</tspan><tspan x="122.00">0</tspan><tspan x="126.00">.</tspan><tspan x="133.30">6</tspan></text>
<path d="M78.60 163.55H101.50" stroke="#800000" stroke-width="1.35" stroke-linecap="round"/>
<text font-size="12" y="167.60" text-anchor="middle"><tspan x="110.10" font-size="11.2">p</tspan><tspan x="115.70" font-size="10.6" fill="#444">=</tspan><tspan x="122.00">0</tspan><tspan x="126.00">.</tspan><tspan x="133.30">7</tspan></text>
<path d="M78.60 176.15H101.50" stroke="#ff0080" stroke-width="1.35" stroke-linecap="round"/>
<text font-size="12" y="180.20" text-anchor="middle"><tspan x="110.10" font-size="11.2">p</tspan><tspan x="115.70" font-size="10.6" fill="#444">=</tspan><tspan x="122.00">0</tspan><tspan x="126.00">.</tspan><tspan x="133.30">8</tspan></text>
<path d="M78.60 188.75H101.50" stroke="#000000" stroke-width="1.35" stroke-linecap="round"/>
<text font-size="12" y="192.80" text-anchor="middle"><tspan x="110.10" font-size="11.2">p</tspan><tspan x="115.70" font-size="10.6" fill="#444">=</tspan><tspan x="122.00">1</tspan><tspan x="126.00">.</tspan><tspan x="133.30">0</tspan></text>
<path d="M392.90 20.50H416.40" stroke="#000000" stroke-width="1.35" stroke-linecap="round"/>
<text font-size="12" y="24.55" text-anchor="middle"><tspan x="424.90" font-size="11.2">p</tspan><tspan x="430.50" font-size="10.6" fill="#444">=</tspan><tspan x="436.80">0</tspan><tspan x="440.80">.</tspan><tspan x="448.10">1</tspan></text>
<path d="M392.90 33.18H416.40" stroke="#ff0000" stroke-width="1.35" stroke-linecap="round"/>
<text font-size="12" y="37.23" text-anchor="middle"><tspan x="424.90" font-size="11.2">p</tspan><tspan x="430.50" font-size="10.6" fill="#444">=</tspan><tspan x="436.80">0</tspan><tspan x="440.80">.</tspan><tspan x="448.10">2</tspan></text>
<path d="M392.90 45.86H416.40" stroke="#00ff00" stroke-width="1.35" stroke-linecap="round"/>
<text font-size="12" y="49.91" text-anchor="middle"><tspan x="424.90" font-size="11.2">p</tspan><tspan x="430.50" font-size="10.6" fill="#444">=</tspan><tspan x="436.80">0</tspan><tspan x="440.80">.</tspan><tspan x="448.10">3</tspan></text>
<path d="M392.90 58.54H416.40" stroke="#0000ff" stroke-width="1.35" stroke-linecap="round"/>
<text font-size="12" y="62.59" text-anchor="middle"><tspan x="424.90" font-size="11.2">p</tspan><tspan x="430.50" font-size="10.6" fill="#444">=</tspan><tspan x="436.80">0</tspan><tspan x="440.80">.</tspan><tspan x="448.10">4</tspan></text>
<path d="M392.90 71.22H416.40" stroke="#00ffff" stroke-width="1.35" stroke-linecap="round"/>
<text font-size="12" y="75.27" text-anchor="middle"><tspan x="424.90" font-size="11.2">p</tspan><tspan x="430.50" font-size="10.6" fill="#444">=</tspan><tspan x="436.80">0</tspan><tspan x="440.80">.</tspan><tspan x="448.10">5</tspan></text>
<path d="M392.90 83.90H416.40" stroke="#ff00ff" stroke-width="1.35" stroke-linecap="round"/>
<text font-size="12" y="87.95" text-anchor="middle"><tspan x="424.90" font-size="11.2">p</tspan><tspan x="430.50" font-size="10.6" fill="#444">=</tspan><tspan x="436.80">0</tspan><tspan x="440.80">.</tspan><tspan x="448.10">6</tspan></text>
<path d="M392.90 96.58H416.40" stroke="#ffff00" stroke-width="1.35" stroke-linecap="round"/>
<text font-size="12" y="100.63" text-anchor="middle"><tspan x="424.90" font-size="11.2">p</tspan><tspan x="430.50" font-size="10.6" fill="#444">=</tspan><tspan x="436.80">0</tspan><tspan x="440.80">.</tspan><tspan x="448.10">7</tspan></text>
<path d="M392.90 109.26H416.40" stroke="#808000" stroke-width="1.35" stroke-linecap="round"/>
<text font-size="12" y="113.31" text-anchor="middle"><tspan x="424.90" font-size="11.2">p</tspan><tspan x="430.50" font-size="10.6" fill="#444">=</tspan><tspan x="436.80">0</tspan><tspan x="440.80">.</tspan><tspan x="448.10">8</tspan></text>
<path d="M392.90 121.94H416.40" stroke="#000080" stroke-width="1.35" stroke-linecap="round"/>
<text font-size="12" y="125.99" text-anchor="middle"><tspan x="424.90" font-size="11.2">p</tspan><tspan x="430.50" font-size="10.6" fill="#444">=</tspan><tspan x="436.80">0</tspan><tspan x="440.80">.</tspan><tspan x="448.10">9</tspan></text>
<text font-size="21.6" x="297.5" y="30.5">(</text><text font-size="24.8" x="304.7" y="32.9">a</text><text font-size="21.6" x="316.5" y="30.5">)</text>
<text font-size="21.6" x="613.5" y="36.8">(</text><text font-size="23.6" x="621.7" y="37.9" textLength="10.3" lengthAdjust="spacingAndGlyphs">b</text><text font-size="21.6" x="632.4" y="36.8">)</text>
<text font-size="26" font-weight="bold" transform="translate(165.00,263) scale(1.03,1.27)">ω</text>
<text font-size="21.5" x="184.30" y="272.8">0</text>
<path d="M195.20 263.4L202.20 244.1" stroke="#000" stroke-width="1.45" fill="none"/>
<text font-size="26" font-weight="bold" transform="translate(202.30,263) scale(1.03,1.27)">ω</text>
<text font-size="23" x="221.30" y="273.3">p</text>
<text font-size="26" font-weight="bold" transform="translate(481.50,263) scale(1.03,1.27)">ω</text>
<text font-size="21.5" x="500.80" y="272.8">0</text>
<path d="M511.70 263.4L518.70 244.1" stroke="#000" stroke-width="1.45" fill="none"/>
<text font-size="26" font-weight="bold" transform="translate(518.80,263) scale(1.03,1.27)">ω</text>
<text font-size="23" x="537.80" y="273.3">p</text>
<g transform="translate(21.4,105) rotate(-90)">
<path d="M-10.5 -16.4 L-19.2 -8.8 L-10.5 -0.7" fill="none" stroke="#000" stroke-width="1.3"/>
<text font-size="23.5" x="-8.4" y="0" textLength="11" lengthAdjust="spacingAndGlyphs">n</text>
<text font-size="14" x="2.2" y="5.8">b</text>
<path d="M11.1 -16.4 L19.5 -8.8 L11.1 -0.7" fill="none" stroke="#000" stroke-width="1.3"/>
</g>
<g transform="translate(356.2,111.4) rotate(-90)"><text font-size="24" x="-5.4" y="0" textLength="10.8" lengthAdjust="spacingAndGlyphs">K</text></g>
</svg>
</body></html>
